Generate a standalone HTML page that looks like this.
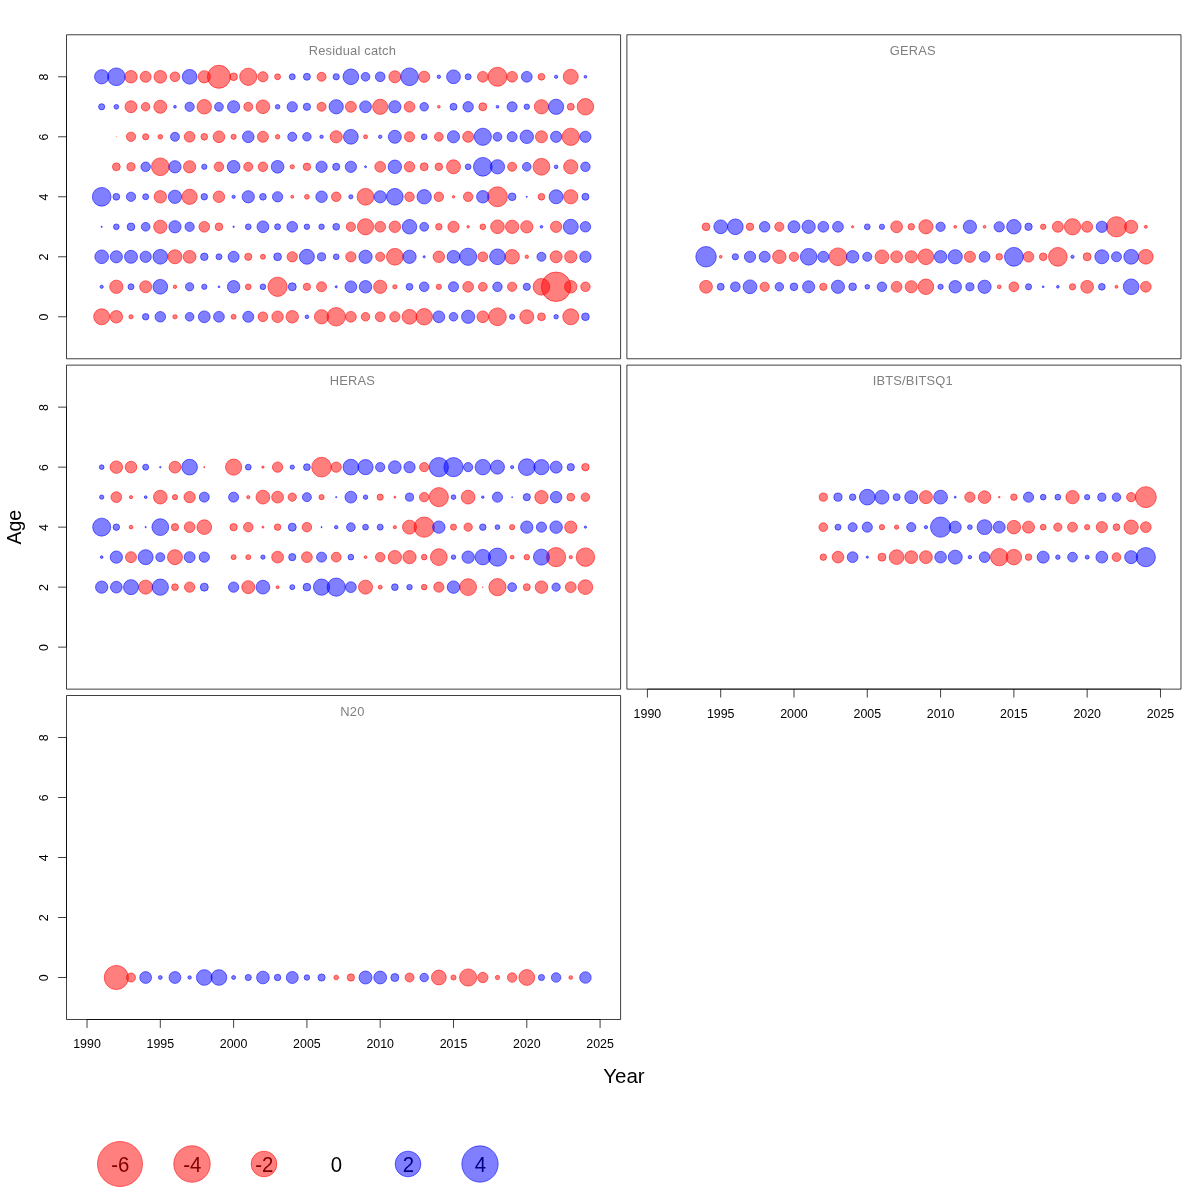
<!DOCTYPE html>
<html><head><meta charset="utf-8"><title>Residual bubbles</title>
<style>html,body{margin:0;padding:0;background:#fff}svg{display:block;will-change:transform}text{font-family:"Liberation Sans",sans-serif}</style></head><body>
<svg width="1200" height="1200" viewBox="0 0 1200 1200">
<rect width="1200" height="1200" fill="#fff"/>
<g>
<circle cx="101.68" cy="316.78" r="8" fill="rgba(255,0,0,0.5)" stroke="rgba(255,0,0,0.55)" stroke-width="1.0"/>
<circle cx="116.34" cy="316.78" r="6.25" fill="rgba(255,0,0,0.5)" stroke="rgba(255,0,0,0.55)" stroke-width="1.0"/>
<circle cx="131" cy="316.78" r="2.15" fill="rgba(255,0,0,0.5)" stroke="rgba(255,0,0,0.55)" stroke-width="1.0"/>
<circle cx="174.97" cy="316.78" r="2.15" fill="rgba(255,0,0,0.5)" stroke="rgba(255,0,0,0.55)" stroke-width="1.0"/>
<circle cx="233.61" cy="316.78" r="2.5" fill="rgba(255,0,0,0.5)" stroke="rgba(255,0,0,0.55)" stroke-width="1.0"/>
<circle cx="262.93" cy="316.78" r="4.85" fill="rgba(255,0,0,0.5)" stroke="rgba(255,0,0,0.55)" stroke-width="1.0"/>
<circle cx="277.59" cy="316.78" r="5.75" fill="rgba(255,0,0,0.5)" stroke="rgba(255,0,0,0.55)" stroke-width="1.0"/>
<circle cx="292.25" cy="316.78" r="6.25" fill="rgba(255,0,0,0.5)" stroke="rgba(255,0,0,0.55)" stroke-width="1.0"/>
<circle cx="321.56" cy="316.78" r="7.15" fill="rgba(255,0,0,0.5)" stroke="rgba(255,0,0,0.55)" stroke-width="1.0"/>
<circle cx="336.22" cy="316.78" r="9.25" fill="rgba(255,0,0,0.5)" stroke="rgba(255,0,0,0.55)" stroke-width="1.0"/>
<circle cx="350.88" cy="316.78" r="5.4" fill="rgba(255,0,0,0.5)" stroke="rgba(255,0,0,0.55)" stroke-width="1.0"/>
<circle cx="365.54" cy="316.78" r="4.25" fill="rgba(255,0,0,0.5)" stroke="rgba(255,0,0,0.55)" stroke-width="1.0"/>
<circle cx="380.2" cy="316.78" r="4.9" fill="rgba(255,0,0,0.5)" stroke="rgba(255,0,0,0.55)" stroke-width="1.0"/>
<circle cx="394.86" cy="316.78" r="5.15" fill="rgba(255,0,0,0.5)" stroke="rgba(255,0,0,0.55)" stroke-width="1.0"/>
<circle cx="409.52" cy="316.78" r="7.4" fill="rgba(255,0,0,0.5)" stroke="rgba(255,0,0,0.55)" stroke-width="1.0"/>
<circle cx="424.18" cy="316.78" r="8.25" fill="rgba(255,0,0,0.5)" stroke="rgba(255,0,0,0.55)" stroke-width="1.0"/>
<circle cx="482.81" cy="316.78" r="5.85" fill="rgba(255,0,0,0.5)" stroke="rgba(255,0,0,0.55)" stroke-width="1.0"/>
<circle cx="497.47" cy="316.78" r="8.85" fill="rgba(255,0,0,0.5)" stroke="rgba(255,0,0,0.55)" stroke-width="1.0"/>
<circle cx="526.79" cy="316.78" r="7" fill="rgba(255,0,0,0.5)" stroke="rgba(255,0,0,0.55)" stroke-width="1.0"/>
<circle cx="541.45" cy="316.78" r="3.9" fill="rgba(255,0,0,0.5)" stroke="rgba(255,0,0,0.55)" stroke-width="1.0"/>
<circle cx="570.77" cy="316.78" r="8" fill="rgba(255,0,0,0.5)" stroke="rgba(255,0,0,0.55)" stroke-width="1.0"/>
<circle cx="116.34" cy="286.78" r="6.65" fill="rgba(255,0,0,0.5)" stroke="rgba(255,0,0,0.55)" stroke-width="1.0"/>
<circle cx="145.66" cy="286.78" r="6" fill="rgba(255,0,0,0.5)" stroke="rgba(255,0,0,0.55)" stroke-width="1.0"/>
<circle cx="174.97" cy="286.78" r="1.75" fill="rgba(255,0,0,0.5)" stroke="rgba(255,0,0,0.55)" stroke-width="1.0"/>
<circle cx="248.27" cy="286.78" r="2.85" fill="rgba(255,0,0,0.5)" stroke="rgba(255,0,0,0.55)" stroke-width="1.0"/>
<circle cx="277.59" cy="286.78" r="9.65" fill="rgba(255,0,0,0.5)" stroke="rgba(255,0,0,0.55)" stroke-width="1.0"/>
<circle cx="306.91" cy="286.78" r="3.65" fill="rgba(255,0,0,0.5)" stroke="rgba(255,0,0,0.55)" stroke-width="1.0"/>
<circle cx="321.56" cy="286.78" r="5" fill="rgba(255,0,0,0.5)" stroke="rgba(255,0,0,0.55)" stroke-width="1.0"/>
<circle cx="380.2" cy="286.78" r="6.6" fill="rgba(255,0,0,0.5)" stroke="rgba(255,0,0,0.55)" stroke-width="1.0"/>
<circle cx="394.86" cy="286.78" r="2.15" fill="rgba(255,0,0,0.5)" stroke="rgba(255,0,0,0.55)" stroke-width="1.0"/>
<circle cx="438.84" cy="286.78" r="2.65" fill="rgba(255,0,0,0.5)" stroke="rgba(255,0,0,0.55)" stroke-width="1.0"/>
<circle cx="468.15" cy="286.78" r="5.35" fill="rgba(255,0,0,0.5)" stroke="rgba(255,0,0,0.55)" stroke-width="1.0"/>
<circle cx="482.81" cy="286.78" r="4.4" fill="rgba(255,0,0,0.5)" stroke="rgba(255,0,0,0.55)" stroke-width="1.0"/>
<circle cx="512.13" cy="286.78" r="4.65" fill="rgba(255,0,0,0.5)" stroke="rgba(255,0,0,0.55)" stroke-width="1.0"/>
<circle cx="541.45" cy="286.78" r="8.35" fill="rgba(255,0,0,0.5)" stroke="rgba(255,0,0,0.55)" stroke-width="1.0"/>
<circle cx="556.11" cy="286.78" r="14.75" fill="rgba(255,0,0,0.5)" stroke="rgba(255,0,0,0.55)" stroke-width="1.0"/>
<circle cx="570.77" cy="286.78" r="6.25" fill="rgba(255,0,0,0.5)" stroke="rgba(255,0,0,0.55)" stroke-width="1.0"/>
<circle cx="585.43" cy="286.78" r="4.75" fill="rgba(255,0,0,0.5)" stroke="rgba(255,0,0,0.55)" stroke-width="1.0"/>
<circle cx="174.97" cy="256.78" r="7" fill="rgba(255,0,0,0.5)" stroke="rgba(255,0,0,0.55)" stroke-width="1.0"/>
<circle cx="189.63" cy="256.78" r="6.4" fill="rgba(255,0,0,0.5)" stroke="rgba(255,0,0,0.55)" stroke-width="1.0"/>
<circle cx="248.27" cy="256.78" r="3.6" fill="rgba(255,0,0,0.5)" stroke="rgba(255,0,0,0.55)" stroke-width="1.0"/>
<circle cx="262.93" cy="256.78" r="2.5" fill="rgba(255,0,0,0.5)" stroke="rgba(255,0,0,0.55)" stroke-width="1.0"/>
<circle cx="292.25" cy="256.78" r="5.15" fill="rgba(255,0,0,0.5)" stroke="rgba(255,0,0,0.55)" stroke-width="1.0"/>
<circle cx="350.88" cy="256.78" r="5.15" fill="rgba(255,0,0,0.5)" stroke="rgba(255,0,0,0.55)" stroke-width="1.0"/>
<circle cx="380.2" cy="256.78" r="4.6" fill="rgba(255,0,0,0.5)" stroke="rgba(255,0,0,0.55)" stroke-width="1.0"/>
<circle cx="394.86" cy="256.78" r="8.4" fill="rgba(255,0,0,0.5)" stroke="rgba(255,0,0,0.55)" stroke-width="1.0"/>
<circle cx="438.84" cy="256.78" r="5.75" fill="rgba(255,0,0,0.5)" stroke="rgba(255,0,0,0.55)" stroke-width="1.0"/>
<circle cx="482.81" cy="256.78" r="4.9" fill="rgba(255,0,0,0.5)" stroke="rgba(255,0,0,0.55)" stroke-width="1.0"/>
<circle cx="512.13" cy="256.78" r="7.25" fill="rgba(255,0,0,0.5)" stroke="rgba(255,0,0,0.55)" stroke-width="1.0"/>
<circle cx="526.79" cy="256.78" r="1.75" fill="rgba(255,0,0,0.5)" stroke="rgba(255,0,0,0.55)" stroke-width="1.0"/>
<circle cx="556.11" cy="256.78" r="6" fill="rgba(255,0,0,0.5)" stroke="rgba(255,0,0,0.55)" stroke-width="1.0"/>
<circle cx="570.77" cy="256.78" r="6.15" fill="rgba(255,0,0,0.5)" stroke="rgba(255,0,0,0.55)" stroke-width="1.0"/>
<circle cx="160.31" cy="226.78" r="6.65" fill="rgba(255,0,0,0.5)" stroke="rgba(255,0,0,0.55)" stroke-width="1.0"/>
<circle cx="204.29" cy="226.78" r="5.35" fill="rgba(255,0,0,0.5)" stroke="rgba(255,0,0,0.55)" stroke-width="1.0"/>
<circle cx="218.95" cy="226.78" r="3.85" fill="rgba(255,0,0,0.5)" stroke="rgba(255,0,0,0.55)" stroke-width="1.0"/>
<circle cx="350.88" cy="226.78" r="4.65" fill="rgba(255,0,0,0.5)" stroke="rgba(255,0,0,0.55)" stroke-width="1.0"/>
<circle cx="365.54" cy="226.78" r="8.1" fill="rgba(255,0,0,0.5)" stroke="rgba(255,0,0,0.55)" stroke-width="1.0"/>
<circle cx="380.2" cy="226.78" r="5.4" fill="rgba(255,0,0,0.5)" stroke="rgba(255,0,0,0.55)" stroke-width="1.0"/>
<circle cx="394.86" cy="226.78" r="5.75" fill="rgba(255,0,0,0.5)" stroke="rgba(255,0,0,0.55)" stroke-width="1.0"/>
<circle cx="438.84" cy="226.78" r="3.25" fill="rgba(255,0,0,0.5)" stroke="rgba(255,0,0,0.55)" stroke-width="1.0"/>
<circle cx="453.5" cy="226.78" r="5.6" fill="rgba(255,0,0,0.5)" stroke="rgba(255,0,0,0.55)" stroke-width="1.0"/>
<circle cx="468.15" cy="226.78" r="1.25" fill="rgba(255,0,0,0.5)" stroke="rgba(255,0,0,0.55)" stroke-width="1.0"/>
<circle cx="482.81" cy="226.78" r="2.85" fill="rgba(255,0,0,0.5)" stroke="rgba(255,0,0,0.55)" stroke-width="1.0"/>
<circle cx="497.47" cy="226.78" r="6.85" fill="rgba(255,0,0,0.5)" stroke="rgba(255,0,0,0.55)" stroke-width="1.0"/>
<circle cx="512.13" cy="226.78" r="6.65" fill="rgba(255,0,0,0.5)" stroke="rgba(255,0,0,0.55)" stroke-width="1.0"/>
<circle cx="526.79" cy="226.78" r="6.15" fill="rgba(255,0,0,0.5)" stroke="rgba(255,0,0,0.55)" stroke-width="1.0"/>
<circle cx="556.11" cy="226.78" r="5.65" fill="rgba(255,0,0,0.5)" stroke="rgba(255,0,0,0.55)" stroke-width="1.0"/>
<circle cx="160.31" cy="196.78" r="6.25" fill="rgba(255,0,0,0.5)" stroke="rgba(255,0,0,0.55)" stroke-width="1.0"/>
<circle cx="189.63" cy="196.78" r="7.6" fill="rgba(255,0,0,0.5)" stroke="rgba(255,0,0,0.55)" stroke-width="1.0"/>
<circle cx="218.95" cy="196.78" r="5.75" fill="rgba(255,0,0,0.5)" stroke="rgba(255,0,0,0.55)" stroke-width="1.0"/>
<circle cx="292.25" cy="196.78" r="1.5" fill="rgba(255,0,0,0.5)" stroke="rgba(255,0,0,0.55)" stroke-width="1.0"/>
<circle cx="306.91" cy="196.78" r="2.4" fill="rgba(255,0,0,0.5)" stroke="rgba(255,0,0,0.55)" stroke-width="1.0"/>
<circle cx="336.22" cy="196.78" r="4.75" fill="rgba(255,0,0,0.5)" stroke="rgba(255,0,0,0.55)" stroke-width="1.0"/>
<circle cx="365.54" cy="196.78" r="8.4" fill="rgba(255,0,0,0.5)" stroke="rgba(255,0,0,0.55)" stroke-width="1.0"/>
<circle cx="409.52" cy="196.78" r="4.75" fill="rgba(255,0,0,0.5)" stroke="rgba(255,0,0,0.55)" stroke-width="1.0"/>
<circle cx="438.84" cy="196.78" r="4.75" fill="rgba(255,0,0,0.5)" stroke="rgba(255,0,0,0.55)" stroke-width="1.0"/>
<circle cx="453.5" cy="196.78" r="1.25" fill="rgba(255,0,0,0.5)" stroke="rgba(255,0,0,0.55)" stroke-width="1.0"/>
<circle cx="468.15" cy="196.78" r="4.75" fill="rgba(255,0,0,0.5)" stroke="rgba(255,0,0,0.55)" stroke-width="1.0"/>
<circle cx="497.47" cy="196.78" r="10" fill="rgba(255,0,0,0.5)" stroke="rgba(255,0,0,0.55)" stroke-width="1.0"/>
<circle cx="541.45" cy="196.78" r="3.35" fill="rgba(255,0,0,0.5)" stroke="rgba(255,0,0,0.55)" stroke-width="1.0"/>
<circle cx="570.77" cy="196.78" r="7.1" fill="rgba(255,0,0,0.5)" stroke="rgba(255,0,0,0.55)" stroke-width="1.0"/>
<circle cx="116.34" cy="166.78" r="3.9" fill="rgba(255,0,0,0.5)" stroke="rgba(255,0,0,0.55)" stroke-width="1.0"/>
<circle cx="131" cy="166.78" r="4.1" fill="rgba(255,0,0,0.5)" stroke="rgba(255,0,0,0.55)" stroke-width="1.0"/>
<circle cx="160.31" cy="166.78" r="8.85" fill="rgba(255,0,0,0.5)" stroke="rgba(255,0,0,0.55)" stroke-width="1.0"/>
<circle cx="189.63" cy="166.78" r="6.15" fill="rgba(255,0,0,0.5)" stroke="rgba(255,0,0,0.55)" stroke-width="1.0"/>
<circle cx="218.95" cy="166.78" r="4.75" fill="rgba(255,0,0,0.5)" stroke="rgba(255,0,0,0.55)" stroke-width="1.0"/>
<circle cx="248.27" cy="166.78" r="4.5" fill="rgba(255,0,0,0.5)" stroke="rgba(255,0,0,0.55)" stroke-width="1.0"/>
<circle cx="262.93" cy="166.78" r="4.75" fill="rgba(255,0,0,0.5)" stroke="rgba(255,0,0,0.55)" stroke-width="1.0"/>
<circle cx="292.25" cy="166.78" r="2.15" fill="rgba(255,0,0,0.5)" stroke="rgba(255,0,0,0.55)" stroke-width="1.0"/>
<circle cx="306.91" cy="166.78" r="3.75" fill="rgba(255,0,0,0.5)" stroke="rgba(255,0,0,0.55)" stroke-width="1.0"/>
<circle cx="380.2" cy="166.78" r="5.4" fill="rgba(255,0,0,0.5)" stroke="rgba(255,0,0,0.55)" stroke-width="1.0"/>
<circle cx="409.52" cy="166.78" r="5.25" fill="rgba(255,0,0,0.5)" stroke="rgba(255,0,0,0.55)" stroke-width="1.0"/>
<circle cx="424.18" cy="166.78" r="4" fill="rgba(255,0,0,0.5)" stroke="rgba(255,0,0,0.55)" stroke-width="1.0"/>
<circle cx="438.84" cy="166.78" r="3.8" fill="rgba(255,0,0,0.5)" stroke="rgba(255,0,0,0.55)" stroke-width="1.0"/>
<circle cx="453.5" cy="166.78" r="7" fill="rgba(255,0,0,0.5)" stroke="rgba(255,0,0,0.55)" stroke-width="1.0"/>
<circle cx="512.13" cy="166.78" r="4.5" fill="rgba(255,0,0,0.5)" stroke="rgba(255,0,0,0.55)" stroke-width="1.0"/>
<circle cx="541.45" cy="166.78" r="8.4" fill="rgba(255,0,0,0.5)" stroke="rgba(255,0,0,0.55)" stroke-width="1.0"/>
<circle cx="570.77" cy="166.78" r="7.15" fill="rgba(255,0,0,0.5)" stroke="rgba(255,0,0,0.55)" stroke-width="1.0"/>
<circle cx="116.34" cy="136.78" r="0.15" fill="rgba(255,0,0,0.5)" stroke="rgba(255,0,0,0.55)" stroke-width="1.0"/>
<circle cx="131" cy="136.78" r="4.65" fill="rgba(255,0,0,0.5)" stroke="rgba(255,0,0,0.55)" stroke-width="1.0"/>
<circle cx="145.66" cy="136.78" r="3.1" fill="rgba(255,0,0,0.5)" stroke="rgba(255,0,0,0.55)" stroke-width="1.0"/>
<circle cx="160.31" cy="136.78" r="2.35" fill="rgba(255,0,0,0.5)" stroke="rgba(255,0,0,0.55)" stroke-width="1.0"/>
<circle cx="189.63" cy="136.78" r="5.35" fill="rgba(255,0,0,0.5)" stroke="rgba(255,0,0,0.55)" stroke-width="1.0"/>
<circle cx="204.29" cy="136.78" r="3.35" fill="rgba(255,0,0,0.5)" stroke="rgba(255,0,0,0.55)" stroke-width="1.0"/>
<circle cx="218.95" cy="136.78" r="5.85" fill="rgba(255,0,0,0.5)" stroke="rgba(255,0,0,0.55)" stroke-width="1.0"/>
<circle cx="233.61" cy="136.78" r="2.6" fill="rgba(255,0,0,0.5)" stroke="rgba(255,0,0,0.55)" stroke-width="1.0"/>
<circle cx="262.93" cy="136.78" r="5.5" fill="rgba(255,0,0,0.5)" stroke="rgba(255,0,0,0.55)" stroke-width="1.0"/>
<circle cx="277.59" cy="136.78" r="2.25" fill="rgba(255,0,0,0.5)" stroke="rgba(255,0,0,0.55)" stroke-width="1.0"/>
<circle cx="336.22" cy="136.78" r="6.1" fill="rgba(255,0,0,0.5)" stroke="rgba(255,0,0,0.55)" stroke-width="1.0"/>
<circle cx="365.54" cy="136.78" r="2" fill="rgba(255,0,0,0.5)" stroke="rgba(255,0,0,0.55)" stroke-width="1.0"/>
<circle cx="409.52" cy="136.78" r="5.1" fill="rgba(255,0,0,0.5)" stroke="rgba(255,0,0,0.55)" stroke-width="1.0"/>
<circle cx="438.84" cy="136.78" r="4.4" fill="rgba(255,0,0,0.5)" stroke="rgba(255,0,0,0.55)" stroke-width="1.0"/>
<circle cx="468.15" cy="136.78" r="5.5" fill="rgba(255,0,0,0.5)" stroke="rgba(255,0,0,0.55)" stroke-width="1.0"/>
<circle cx="541.45" cy="136.78" r="6" fill="rgba(255,0,0,0.5)" stroke="rgba(255,0,0,0.55)" stroke-width="1.0"/>
<circle cx="570.77" cy="136.78" r="8.65" fill="rgba(255,0,0,0.5)" stroke="rgba(255,0,0,0.55)" stroke-width="1.0"/>
<circle cx="131" cy="106.78" r="6" fill="rgba(255,0,0,0.5)" stroke="rgba(255,0,0,0.55)" stroke-width="1.0"/>
<circle cx="145.66" cy="106.78" r="4.25" fill="rgba(255,0,0,0.5)" stroke="rgba(255,0,0,0.55)" stroke-width="1.0"/>
<circle cx="160.31" cy="106.78" r="6.5" fill="rgba(255,0,0,0.5)" stroke="rgba(255,0,0,0.55)" stroke-width="1.0"/>
<circle cx="204.29" cy="106.78" r="7.25" fill="rgba(255,0,0,0.5)" stroke="rgba(255,0,0,0.55)" stroke-width="1.0"/>
<circle cx="248.27" cy="106.78" r="4.5" fill="rgba(255,0,0,0.5)" stroke="rgba(255,0,0,0.55)" stroke-width="1.0"/>
<circle cx="262.93" cy="106.78" r="6.85" fill="rgba(255,0,0,0.5)" stroke="rgba(255,0,0,0.55)" stroke-width="1.0"/>
<circle cx="321.56" cy="106.78" r="4.5" fill="rgba(255,0,0,0.5)" stroke="rgba(255,0,0,0.55)" stroke-width="1.0"/>
<circle cx="350.88" cy="106.78" r="5.5" fill="rgba(255,0,0,0.5)" stroke="rgba(255,0,0,0.55)" stroke-width="1.0"/>
<circle cx="380.2" cy="106.78" r="7.6" fill="rgba(255,0,0,0.5)" stroke="rgba(255,0,0,0.55)" stroke-width="1.0"/>
<circle cx="409.52" cy="106.78" r="5.35" fill="rgba(255,0,0,0.5)" stroke="rgba(255,0,0,0.55)" stroke-width="1.0"/>
<circle cx="438.84" cy="106.78" r="1.35" fill="rgba(255,0,0,0.5)" stroke="rgba(255,0,0,0.55)" stroke-width="1.0"/>
<circle cx="482.81" cy="106.78" r="4" fill="rgba(255,0,0,0.5)" stroke="rgba(255,0,0,0.55)" stroke-width="1.0"/>
<circle cx="541.45" cy="106.78" r="7.15" fill="rgba(255,0,0,0.5)" stroke="rgba(255,0,0,0.55)" stroke-width="1.0"/>
<circle cx="570.77" cy="106.78" r="3.5" fill="rgba(255,0,0,0.5)" stroke="rgba(255,0,0,0.55)" stroke-width="1.0"/>
<circle cx="585.43" cy="106.78" r="8.25" fill="rgba(255,0,0,0.5)" stroke="rgba(255,0,0,0.55)" stroke-width="1.0"/>
<circle cx="131" cy="76.78" r="6.25" fill="rgba(255,0,0,0.5)" stroke="rgba(255,0,0,0.55)" stroke-width="1.0"/>
<circle cx="145.66" cy="76.78" r="5.5" fill="rgba(255,0,0,0.5)" stroke="rgba(255,0,0,0.55)" stroke-width="1.0"/>
<circle cx="160.31" cy="76.78" r="6.35" fill="rgba(255,0,0,0.5)" stroke="rgba(255,0,0,0.55)" stroke-width="1.0"/>
<circle cx="174.97" cy="76.78" r="4.85" fill="rgba(255,0,0,0.5)" stroke="rgba(255,0,0,0.55)" stroke-width="1.0"/>
<circle cx="204.29" cy="76.78" r="6.15" fill="rgba(255,0,0,0.5)" stroke="rgba(255,0,0,0.55)" stroke-width="1.0"/>
<circle cx="218.95" cy="76.78" r="11.5" fill="rgba(255,0,0,0.5)" stroke="rgba(255,0,0,0.55)" stroke-width="1.0"/>
<circle cx="233.61" cy="76.78" r="3.85" fill="rgba(255,0,0,0.5)" stroke="rgba(255,0,0,0.55)" stroke-width="1.0"/>
<circle cx="248.27" cy="76.78" r="8.6" fill="rgba(255,0,0,0.5)" stroke="rgba(255,0,0,0.55)" stroke-width="1.0"/>
<circle cx="262.93" cy="76.78" r="5.1" fill="rgba(255,0,0,0.5)" stroke="rgba(255,0,0,0.55)" stroke-width="1.0"/>
<circle cx="277.59" cy="76.78" r="2.95" fill="rgba(255,0,0,0.5)" stroke="rgba(255,0,0,0.55)" stroke-width="1.0"/>
<circle cx="321.56" cy="76.78" r="4.5" fill="rgba(255,0,0,0.5)" stroke="rgba(255,0,0,0.55)" stroke-width="1.0"/>
<circle cx="394.86" cy="76.78" r="6" fill="rgba(255,0,0,0.5)" stroke="rgba(255,0,0,0.55)" stroke-width="1.0"/>
<circle cx="424.18" cy="76.78" r="5.6" fill="rgba(255,0,0,0.5)" stroke="rgba(255,0,0,0.55)" stroke-width="1.0"/>
<circle cx="482.81" cy="76.78" r="5.35" fill="rgba(255,0,0,0.5)" stroke="rgba(255,0,0,0.55)" stroke-width="1.0"/>
<circle cx="497.47" cy="76.78" r="9.5" fill="rgba(255,0,0,0.5)" stroke="rgba(255,0,0,0.55)" stroke-width="1.0"/>
<circle cx="512.13" cy="76.78" r="5.35" fill="rgba(255,0,0,0.5)" stroke="rgba(255,0,0,0.55)" stroke-width="1.0"/>
<circle cx="541.45" cy="76.78" r="3.4" fill="rgba(255,0,0,0.5)" stroke="rgba(255,0,0,0.55)" stroke-width="1.0"/>
<circle cx="570.77" cy="76.78" r="7.5" fill="rgba(255,0,0,0.5)" stroke="rgba(255,0,0,0.55)" stroke-width="1.0"/>
<circle cx="145.66" cy="316.78" r="3.25" fill="rgba(0,0,255,0.5)" stroke="rgba(0,0,255,0.55)" stroke-width="1.0"/>
<circle cx="160.31" cy="316.78" r="5.25" fill="rgba(0,0,255,0.5)" stroke="rgba(0,0,255,0.55)" stroke-width="1.0"/>
<circle cx="189.63" cy="316.78" r="4.35" fill="rgba(0,0,255,0.5)" stroke="rgba(0,0,255,0.55)" stroke-width="1.0"/>
<circle cx="204.29" cy="316.78" r="5.9" fill="rgba(0,0,255,0.5)" stroke="rgba(0,0,255,0.55)" stroke-width="1.0"/>
<circle cx="218.95" cy="316.78" r="5.4" fill="rgba(0,0,255,0.5)" stroke="rgba(0,0,255,0.55)" stroke-width="1.0"/>
<circle cx="248.27" cy="316.78" r="5.5" fill="rgba(0,0,255,0.5)" stroke="rgba(0,0,255,0.55)" stroke-width="1.0"/>
<circle cx="306.91" cy="316.78" r="1.85" fill="rgba(0,0,255,0.5)" stroke="rgba(0,0,255,0.55)" stroke-width="1.0"/>
<circle cx="438.84" cy="316.78" r="5.9" fill="rgba(0,0,255,0.5)" stroke="rgba(0,0,255,0.55)" stroke-width="1.0"/>
<circle cx="453.5" cy="316.78" r="4.3" fill="rgba(0,0,255,0.5)" stroke="rgba(0,0,255,0.55)" stroke-width="1.0"/>
<circle cx="468.15" cy="316.78" r="6.6" fill="rgba(0,0,255,0.5)" stroke="rgba(0,0,255,0.55)" stroke-width="1.0"/>
<circle cx="512.13" cy="316.78" r="2.6" fill="rgba(0,0,255,0.5)" stroke="rgba(0,0,255,0.55)" stroke-width="1.0"/>
<circle cx="556.11" cy="316.78" r="2.25" fill="rgba(0,0,255,0.5)" stroke="rgba(0,0,255,0.55)" stroke-width="1.0"/>
<circle cx="585.43" cy="316.78" r="3.85" fill="rgba(0,0,255,0.5)" stroke="rgba(0,0,255,0.55)" stroke-width="1.0"/>
<circle cx="101.68" cy="286.78" r="1.65" fill="rgba(0,0,255,0.5)" stroke="rgba(0,0,255,0.55)" stroke-width="1.0"/>
<circle cx="131" cy="286.78" r="3" fill="rgba(0,0,255,0.5)" stroke="rgba(0,0,255,0.55)" stroke-width="1.0"/>
<circle cx="160.31" cy="286.78" r="7.35" fill="rgba(0,0,255,0.5)" stroke="rgba(0,0,255,0.55)" stroke-width="1.0"/>
<circle cx="189.63" cy="286.78" r="4.15" fill="rgba(0,0,255,0.5)" stroke="rgba(0,0,255,0.55)" stroke-width="1.0"/>
<circle cx="204.29" cy="286.78" r="2.65" fill="rgba(0,0,255,0.5)" stroke="rgba(0,0,255,0.55)" stroke-width="1.0"/>
<circle cx="218.95" cy="286.78" r="0.9" fill="rgba(0,0,255,0.5)" stroke="rgba(0,0,255,0.55)" stroke-width="1.0"/>
<circle cx="233.61" cy="286.78" r="6.25" fill="rgba(0,0,255,0.5)" stroke="rgba(0,0,255,0.55)" stroke-width="1.0"/>
<circle cx="262.93" cy="286.78" r="2.85" fill="rgba(0,0,255,0.5)" stroke="rgba(0,0,255,0.55)" stroke-width="1.0"/>
<circle cx="292.25" cy="286.78" r="4" fill="rgba(0,0,255,0.5)" stroke="rgba(0,0,255,0.55)" stroke-width="1.0"/>
<circle cx="336.22" cy="286.78" r="1.1" fill="rgba(0,0,255,0.5)" stroke="rgba(0,0,255,0.55)" stroke-width="1.0"/>
<circle cx="350.88" cy="286.78" r="5.9" fill="rgba(0,0,255,0.5)" stroke="rgba(0,0,255,0.55)" stroke-width="1.0"/>
<circle cx="365.54" cy="286.78" r="6.25" fill="rgba(0,0,255,0.5)" stroke="rgba(0,0,255,0.55)" stroke-width="1.0"/>
<circle cx="409.52" cy="286.78" r="3.4" fill="rgba(0,0,255,0.5)" stroke="rgba(0,0,255,0.55)" stroke-width="1.0"/>
<circle cx="424.18" cy="286.78" r="4.8" fill="rgba(0,0,255,0.5)" stroke="rgba(0,0,255,0.55)" stroke-width="1.0"/>
<circle cx="453.5" cy="286.78" r="5" fill="rgba(0,0,255,0.5)" stroke="rgba(0,0,255,0.55)" stroke-width="1.0"/>
<circle cx="497.47" cy="286.78" r="4.75" fill="rgba(0,0,255,0.5)" stroke="rgba(0,0,255,0.55)" stroke-width="1.0"/>
<circle cx="526.79" cy="286.78" r="3.6" fill="rgba(0,0,255,0.5)" stroke="rgba(0,0,255,0.55)" stroke-width="1.0"/>
<circle cx="101.68" cy="256.78" r="6.85" fill="rgba(0,0,255,0.5)" stroke="rgba(0,0,255,0.55)" stroke-width="1.0"/>
<circle cx="116.34" cy="256.78" r="6.1" fill="rgba(0,0,255,0.5)" stroke="rgba(0,0,255,0.55)" stroke-width="1.0"/>
<circle cx="131" cy="256.78" r="6.5" fill="rgba(0,0,255,0.5)" stroke="rgba(0,0,255,0.55)" stroke-width="1.0"/>
<circle cx="145.66" cy="256.78" r="5.65" fill="rgba(0,0,255,0.5)" stroke="rgba(0,0,255,0.55)" stroke-width="1.0"/>
<circle cx="160.31" cy="256.78" r="7.35" fill="rgba(0,0,255,0.5)" stroke="rgba(0,0,255,0.55)" stroke-width="1.0"/>
<circle cx="204.29" cy="256.78" r="3.75" fill="rgba(0,0,255,0.5)" stroke="rgba(0,0,255,0.55)" stroke-width="1.0"/>
<circle cx="218.95" cy="256.78" r="3" fill="rgba(0,0,255,0.5)" stroke="rgba(0,0,255,0.55)" stroke-width="1.0"/>
<circle cx="233.61" cy="256.78" r="5.5" fill="rgba(0,0,255,0.5)" stroke="rgba(0,0,255,0.55)" stroke-width="1.0"/>
<circle cx="277.59" cy="256.78" r="3.9" fill="rgba(0,0,255,0.5)" stroke="rgba(0,0,255,0.55)" stroke-width="1.0"/>
<circle cx="306.91" cy="256.78" r="7.5" fill="rgba(0,0,255,0.5)" stroke="rgba(0,0,255,0.55)" stroke-width="1.0"/>
<circle cx="321.56" cy="256.78" r="4.1" fill="rgba(0,0,255,0.5)" stroke="rgba(0,0,255,0.55)" stroke-width="1.0"/>
<circle cx="336.22" cy="256.78" r="2.9" fill="rgba(0,0,255,0.5)" stroke="rgba(0,0,255,0.55)" stroke-width="1.0"/>
<circle cx="365.54" cy="256.78" r="6.65" fill="rgba(0,0,255,0.5)" stroke="rgba(0,0,255,0.55)" stroke-width="1.0"/>
<circle cx="409.52" cy="256.78" r="6.65" fill="rgba(0,0,255,0.5)" stroke="rgba(0,0,255,0.55)" stroke-width="1.0"/>
<circle cx="424.18" cy="256.78" r="1.1" fill="rgba(0,0,255,0.5)" stroke="rgba(0,0,255,0.55)" stroke-width="1.0"/>
<circle cx="453.5" cy="256.78" r="6.4" fill="rgba(0,0,255,0.5)" stroke="rgba(0,0,255,0.55)" stroke-width="1.0"/>
<circle cx="468.15" cy="256.78" r="8.6" fill="rgba(0,0,255,0.5)" stroke="rgba(0,0,255,0.55)" stroke-width="1.0"/>
<circle cx="497.47" cy="256.78" r="7.85" fill="rgba(0,0,255,0.5)" stroke="rgba(0,0,255,0.55)" stroke-width="1.0"/>
<circle cx="541.45" cy="256.78" r="4.5" fill="rgba(0,0,255,0.5)" stroke="rgba(0,0,255,0.55)" stroke-width="1.0"/>
<circle cx="585.43" cy="256.78" r="5.65" fill="rgba(0,0,255,0.5)" stroke="rgba(0,0,255,0.55)" stroke-width="1.0"/>
<circle cx="101.68" cy="226.78" r="0.65" fill="rgba(0,0,255,0.5)" stroke="rgba(0,0,255,0.55)" stroke-width="1.0"/>
<circle cx="116.34" cy="226.78" r="2.85" fill="rgba(0,0,255,0.5)" stroke="rgba(0,0,255,0.55)" stroke-width="1.0"/>
<circle cx="131" cy="226.78" r="3.85" fill="rgba(0,0,255,0.5)" stroke="rgba(0,0,255,0.55)" stroke-width="1.0"/>
<circle cx="145.66" cy="226.78" r="4.35" fill="rgba(0,0,255,0.5)" stroke="rgba(0,0,255,0.55)" stroke-width="1.0"/>
<circle cx="174.97" cy="226.78" r="6.15" fill="rgba(0,0,255,0.5)" stroke="rgba(0,0,255,0.55)" stroke-width="1.0"/>
<circle cx="189.63" cy="226.78" r="4.65" fill="rgba(0,0,255,0.5)" stroke="rgba(0,0,255,0.55)" stroke-width="1.0"/>
<circle cx="233.61" cy="226.78" r="0.75" fill="rgba(0,0,255,0.5)" stroke="rgba(0,0,255,0.55)" stroke-width="1.0"/>
<circle cx="248.27" cy="226.78" r="2.9" fill="rgba(0,0,255,0.5)" stroke="rgba(0,0,255,0.55)" stroke-width="1.0"/>
<circle cx="262.93" cy="226.78" r="5.9" fill="rgba(0,0,255,0.5)" stroke="rgba(0,0,255,0.55)" stroke-width="1.0"/>
<circle cx="277.59" cy="226.78" r="3" fill="rgba(0,0,255,0.5)" stroke="rgba(0,0,255,0.55)" stroke-width="1.0"/>
<circle cx="292.25" cy="226.78" r="5.35" fill="rgba(0,0,255,0.5)" stroke="rgba(0,0,255,0.55)" stroke-width="1.0"/>
<circle cx="306.91" cy="226.78" r="2.75" fill="rgba(0,0,255,0.5)" stroke="rgba(0,0,255,0.55)" stroke-width="1.0"/>
<circle cx="321.56" cy="226.78" r="2.75" fill="rgba(0,0,255,0.5)" stroke="rgba(0,0,255,0.55)" stroke-width="1.0"/>
<circle cx="336.22" cy="226.78" r="3.4" fill="rgba(0,0,255,0.5)" stroke="rgba(0,0,255,0.55)" stroke-width="1.0"/>
<circle cx="409.52" cy="226.78" r="7.25" fill="rgba(0,0,255,0.5)" stroke="rgba(0,0,255,0.55)" stroke-width="1.0"/>
<circle cx="424.18" cy="226.78" r="4.4" fill="rgba(0,0,255,0.5)" stroke="rgba(0,0,255,0.55)" stroke-width="1.0"/>
<circle cx="541.45" cy="226.78" r="1.35" fill="rgba(0,0,255,0.5)" stroke="rgba(0,0,255,0.55)" stroke-width="1.0"/>
<circle cx="570.77" cy="226.78" r="7.5" fill="rgba(0,0,255,0.5)" stroke="rgba(0,0,255,0.55)" stroke-width="1.0"/>
<circle cx="585.43" cy="226.78" r="5.25" fill="rgba(0,0,255,0.5)" stroke="rgba(0,0,255,0.55)" stroke-width="1.0"/>
<circle cx="101.68" cy="196.78" r="9.35" fill="rgba(0,0,255,0.5)" stroke="rgba(0,0,255,0.55)" stroke-width="1.0"/>
<circle cx="116.34" cy="196.78" r="3.4" fill="rgba(0,0,255,0.5)" stroke="rgba(0,0,255,0.55)" stroke-width="1.0"/>
<circle cx="131" cy="196.78" r="4.65" fill="rgba(0,0,255,0.5)" stroke="rgba(0,0,255,0.55)" stroke-width="1.0"/>
<circle cx="145.66" cy="196.78" r="3" fill="rgba(0,0,255,0.5)" stroke="rgba(0,0,255,0.55)" stroke-width="1.0"/>
<circle cx="174.97" cy="196.78" r="6.65" fill="rgba(0,0,255,0.5)" stroke="rgba(0,0,255,0.55)" stroke-width="1.0"/>
<circle cx="204.29" cy="196.78" r="3.25" fill="rgba(0,0,255,0.5)" stroke="rgba(0,0,255,0.55)" stroke-width="1.0"/>
<circle cx="233.61" cy="196.78" r="1.65" fill="rgba(0,0,255,0.5)" stroke="rgba(0,0,255,0.55)" stroke-width="1.0"/>
<circle cx="248.27" cy="196.78" r="6.15" fill="rgba(0,0,255,0.5)" stroke="rgba(0,0,255,0.55)" stroke-width="1.0"/>
<circle cx="262.93" cy="196.78" r="3.35" fill="rgba(0,0,255,0.5)" stroke="rgba(0,0,255,0.55)" stroke-width="1.0"/>
<circle cx="277.59" cy="196.78" r="5.15" fill="rgba(0,0,255,0.5)" stroke="rgba(0,0,255,0.55)" stroke-width="1.0"/>
<circle cx="321.56" cy="196.78" r="5.75" fill="rgba(0,0,255,0.5)" stroke="rgba(0,0,255,0.55)" stroke-width="1.0"/>
<circle cx="350.88" cy="196.78" r="2.1" fill="rgba(0,0,255,0.5)" stroke="rgba(0,0,255,0.55)" stroke-width="1.0"/>
<circle cx="380.2" cy="196.78" r="6.1" fill="rgba(0,0,255,0.5)" stroke="rgba(0,0,255,0.55)" stroke-width="1.0"/>
<circle cx="394.86" cy="196.78" r="8.35" fill="rgba(0,0,255,0.5)" stroke="rgba(0,0,255,0.55)" stroke-width="1.0"/>
<circle cx="424.18" cy="196.78" r="7.2" fill="rgba(0,0,255,0.5)" stroke="rgba(0,0,255,0.55)" stroke-width="1.0"/>
<circle cx="482.81" cy="196.78" r="6.25" fill="rgba(0,0,255,0.5)" stroke="rgba(0,0,255,0.55)" stroke-width="1.0"/>
<circle cx="512.13" cy="196.78" r="3.85" fill="rgba(0,0,255,0.5)" stroke="rgba(0,0,255,0.55)" stroke-width="1.0"/>
<circle cx="526.79" cy="196.78" r="0.6" fill="rgba(0,0,255,0.5)" stroke="rgba(0,0,255,0.55)" stroke-width="1.0"/>
<circle cx="556.11" cy="196.78" r="7" fill="rgba(0,0,255,0.5)" stroke="rgba(0,0,255,0.55)" stroke-width="1.0"/>
<circle cx="585.43" cy="196.78" r="3.5" fill="rgba(0,0,255,0.5)" stroke="rgba(0,0,255,0.55)" stroke-width="1.0"/>
<circle cx="145.66" cy="166.78" r="4.75" fill="rgba(0,0,255,0.5)" stroke="rgba(0,0,255,0.55)" stroke-width="1.0"/>
<circle cx="174.97" cy="166.78" r="6.15" fill="rgba(0,0,255,0.5)" stroke="rgba(0,0,255,0.55)" stroke-width="1.0"/>
<circle cx="204.29" cy="166.78" r="2.65" fill="rgba(0,0,255,0.5)" stroke="rgba(0,0,255,0.55)" stroke-width="1.0"/>
<circle cx="233.61" cy="166.78" r="6.35" fill="rgba(0,0,255,0.5)" stroke="rgba(0,0,255,0.55)" stroke-width="1.0"/>
<circle cx="277.59" cy="166.78" r="6.35" fill="rgba(0,0,255,0.5)" stroke="rgba(0,0,255,0.55)" stroke-width="1.0"/>
<circle cx="321.56" cy="166.78" r="5.65" fill="rgba(0,0,255,0.5)" stroke="rgba(0,0,255,0.55)" stroke-width="1.0"/>
<circle cx="336.22" cy="166.78" r="3.6" fill="rgba(0,0,255,0.5)" stroke="rgba(0,0,255,0.55)" stroke-width="1.0"/>
<circle cx="350.88" cy="166.78" r="5.65" fill="rgba(0,0,255,0.5)" stroke="rgba(0,0,255,0.55)" stroke-width="1.0"/>
<circle cx="365.54" cy="166.78" r="1" fill="rgba(0,0,255,0.5)" stroke="rgba(0,0,255,0.55)" stroke-width="1.0"/>
<circle cx="394.86" cy="166.78" r="6.75" fill="rgba(0,0,255,0.5)" stroke="rgba(0,0,255,0.55)" stroke-width="1.0"/>
<circle cx="468.15" cy="166.78" r="2.9" fill="rgba(0,0,255,0.5)" stroke="rgba(0,0,255,0.55)" stroke-width="1.0"/>
<circle cx="482.81" cy="166.78" r="9.35" fill="rgba(0,0,255,0.5)" stroke="rgba(0,0,255,0.55)" stroke-width="1.0"/>
<circle cx="497.47" cy="166.78" r="7.15" fill="rgba(0,0,255,0.5)" stroke="rgba(0,0,255,0.55)" stroke-width="1.0"/>
<circle cx="526.79" cy="166.78" r="4.35" fill="rgba(0,0,255,0.5)" stroke="rgba(0,0,255,0.55)" stroke-width="1.0"/>
<circle cx="556.11" cy="166.78" r="1.85" fill="rgba(0,0,255,0.5)" stroke="rgba(0,0,255,0.55)" stroke-width="1.0"/>
<circle cx="585.43" cy="166.78" r="4.75" fill="rgba(0,0,255,0.5)" stroke="rgba(0,0,255,0.55)" stroke-width="1.0"/>
<circle cx="174.97" cy="136.78" r="4.5" fill="rgba(0,0,255,0.5)" stroke="rgba(0,0,255,0.55)" stroke-width="1.0"/>
<circle cx="248.27" cy="136.78" r="5.85" fill="rgba(0,0,255,0.5)" stroke="rgba(0,0,255,0.55)" stroke-width="1.0"/>
<circle cx="292.25" cy="136.78" r="4.5" fill="rgba(0,0,255,0.5)" stroke="rgba(0,0,255,0.55)" stroke-width="1.0"/>
<circle cx="306.91" cy="136.78" r="4.25" fill="rgba(0,0,255,0.5)" stroke="rgba(0,0,255,0.55)" stroke-width="1.0"/>
<circle cx="321.56" cy="136.78" r="1.75" fill="rgba(0,0,255,0.5)" stroke="rgba(0,0,255,0.55)" stroke-width="1.0"/>
<circle cx="350.88" cy="136.78" r="7.4" fill="rgba(0,0,255,0.5)" stroke="rgba(0,0,255,0.55)" stroke-width="1.0"/>
<circle cx="380.2" cy="136.78" r="1.75" fill="rgba(0,0,255,0.5)" stroke="rgba(0,0,255,0.55)" stroke-width="1.0"/>
<circle cx="394.86" cy="136.78" r="6.5" fill="rgba(0,0,255,0.5)" stroke="rgba(0,0,255,0.55)" stroke-width="1.0"/>
<circle cx="424.18" cy="136.78" r="2.9" fill="rgba(0,0,255,0.5)" stroke="rgba(0,0,255,0.55)" stroke-width="1.0"/>
<circle cx="453.5" cy="136.78" r="6.1" fill="rgba(0,0,255,0.5)" stroke="rgba(0,0,255,0.55)" stroke-width="1.0"/>
<circle cx="482.81" cy="136.78" r="8.6" fill="rgba(0,0,255,0.5)" stroke="rgba(0,0,255,0.55)" stroke-width="1.0"/>
<circle cx="497.47" cy="136.78" r="4.4" fill="rgba(0,0,255,0.5)" stroke="rgba(0,0,255,0.55)" stroke-width="1.0"/>
<circle cx="512.13" cy="136.78" r="5" fill="rgba(0,0,255,0.5)" stroke="rgba(0,0,255,0.55)" stroke-width="1.0"/>
<circle cx="526.79" cy="136.78" r="6.75" fill="rgba(0,0,255,0.5)" stroke="rgba(0,0,255,0.55)" stroke-width="1.0"/>
<circle cx="556.11" cy="136.78" r="5.6" fill="rgba(0,0,255,0.5)" stroke="rgba(0,0,255,0.55)" stroke-width="1.0"/>
<circle cx="585.43" cy="136.78" r="5.6" fill="rgba(0,0,255,0.5)" stroke="rgba(0,0,255,0.55)" stroke-width="1.0"/>
<circle cx="101.68" cy="106.78" r="3.1" fill="rgba(0,0,255,0.5)" stroke="rgba(0,0,255,0.55)" stroke-width="1.0"/>
<circle cx="116.34" cy="106.78" r="2.35" fill="rgba(0,0,255,0.5)" stroke="rgba(0,0,255,0.55)" stroke-width="1.0"/>
<circle cx="174.97" cy="106.78" r="1.4" fill="rgba(0,0,255,0.5)" stroke="rgba(0,0,255,0.55)" stroke-width="1.0"/>
<circle cx="189.63" cy="106.78" r="4.65" fill="rgba(0,0,255,0.5)" stroke="rgba(0,0,255,0.55)" stroke-width="1.0"/>
<circle cx="218.95" cy="106.78" r="4.4" fill="rgba(0,0,255,0.5)" stroke="rgba(0,0,255,0.55)" stroke-width="1.0"/>
<circle cx="233.61" cy="106.78" r="6.1" fill="rgba(0,0,255,0.5)" stroke="rgba(0,0,255,0.55)" stroke-width="1.0"/>
<circle cx="277.59" cy="106.78" r="2.3" fill="rgba(0,0,255,0.5)" stroke="rgba(0,0,255,0.55)" stroke-width="1.0"/>
<circle cx="292.25" cy="106.78" r="5.15" fill="rgba(0,0,255,0.5)" stroke="rgba(0,0,255,0.55)" stroke-width="1.0"/>
<circle cx="306.91" cy="106.78" r="3.65" fill="rgba(0,0,255,0.5)" stroke="rgba(0,0,255,0.55)" stroke-width="1.0"/>
<circle cx="336.22" cy="106.78" r="7.15" fill="rgba(0,0,255,0.5)" stroke="rgba(0,0,255,0.55)" stroke-width="1.0"/>
<circle cx="365.54" cy="106.78" r="5.9" fill="rgba(0,0,255,0.5)" stroke="rgba(0,0,255,0.55)" stroke-width="1.0"/>
<circle cx="394.86" cy="106.78" r="6.15" fill="rgba(0,0,255,0.5)" stroke="rgba(0,0,255,0.55)" stroke-width="1.0"/>
<circle cx="424.18" cy="106.78" r="4.25" fill="rgba(0,0,255,0.5)" stroke="rgba(0,0,255,0.55)" stroke-width="1.0"/>
<circle cx="453.5" cy="106.78" r="3.5" fill="rgba(0,0,255,0.5)" stroke="rgba(0,0,255,0.55)" stroke-width="1.0"/>
<circle cx="468.15" cy="106.78" r="5.2" fill="rgba(0,0,255,0.5)" stroke="rgba(0,0,255,0.55)" stroke-width="1.0"/>
<circle cx="497.47" cy="106.78" r="1.4" fill="rgba(0,0,255,0.5)" stroke="rgba(0,0,255,0.55)" stroke-width="1.0"/>
<circle cx="512.13" cy="106.78" r="5" fill="rgba(0,0,255,0.5)" stroke="rgba(0,0,255,0.55)" stroke-width="1.0"/>
<circle cx="526.79" cy="106.78" r="2.75" fill="rgba(0,0,255,0.5)" stroke="rgba(0,0,255,0.55)" stroke-width="1.0"/>
<circle cx="556.11" cy="106.78" r="7.6" fill="rgba(0,0,255,0.5)" stroke="rgba(0,0,255,0.55)" stroke-width="1.0"/>
<circle cx="101.68" cy="76.78" r="7.15" fill="rgba(0,0,255,0.5)" stroke="rgba(0,0,255,0.55)" stroke-width="1.0"/>
<circle cx="116.34" cy="76.78" r="8.85" fill="rgba(0,0,255,0.5)" stroke="rgba(0,0,255,0.55)" stroke-width="1.0"/>
<circle cx="189.63" cy="76.78" r="7.35" fill="rgba(0,0,255,0.5)" stroke="rgba(0,0,255,0.55)" stroke-width="1.0"/>
<circle cx="292.25" cy="76.78" r="3" fill="rgba(0,0,255,0.5)" stroke="rgba(0,0,255,0.55)" stroke-width="1.0"/>
<circle cx="306.91" cy="76.78" r="3.5" fill="rgba(0,0,255,0.5)" stroke="rgba(0,0,255,0.55)" stroke-width="1.0"/>
<circle cx="336.22" cy="76.78" r="3.15" fill="rgba(0,0,255,0.5)" stroke="rgba(0,0,255,0.55)" stroke-width="1.0"/>
<circle cx="350.88" cy="76.78" r="7.85" fill="rgba(0,0,255,0.5)" stroke="rgba(0,0,255,0.55)" stroke-width="1.0"/>
<circle cx="365.54" cy="76.78" r="4.35" fill="rgba(0,0,255,0.5)" stroke="rgba(0,0,255,0.55)" stroke-width="1.0"/>
<circle cx="380.2" cy="76.78" r="4.85" fill="rgba(0,0,255,0.5)" stroke="rgba(0,0,255,0.55)" stroke-width="1.0"/>
<circle cx="409.52" cy="76.78" r="8.85" fill="rgba(0,0,255,0.5)" stroke="rgba(0,0,255,0.55)" stroke-width="1.0"/>
<circle cx="438.84" cy="76.78" r="1.75" fill="rgba(0,0,255,0.5)" stroke="rgba(0,0,255,0.55)" stroke-width="1.0"/>
<circle cx="453.5" cy="76.78" r="6.9" fill="rgba(0,0,255,0.5)" stroke="rgba(0,0,255,0.55)" stroke-width="1.0"/>
<circle cx="468.15" cy="76.78" r="3" fill="rgba(0,0,255,0.5)" stroke="rgba(0,0,255,0.55)" stroke-width="1.0"/>
<circle cx="526.79" cy="76.78" r="5.4" fill="rgba(0,0,255,0.5)" stroke="rgba(0,0,255,0.55)" stroke-width="1.0"/>
<circle cx="556.11" cy="76.78" r="1.65" fill="rgba(0,0,255,0.5)" stroke="rgba(0,0,255,0.55)" stroke-width="1.0"/>
<circle cx="585.43" cy="76.78" r="1.4" fill="rgba(0,0,255,0.5)" stroke="rgba(0,0,255,0.55)" stroke-width="1.0"/>
<rect x="66.5" y="34.78" width="554.1" height="324" fill="none" stroke="#000" stroke-linejoin="round" stroke-width="0.75"/>
<text x="352.4" y="54.68" font-size="12.9" letter-spacing="0.2" fill="#808080" text-anchor="middle">Residual catch</text>
<line x1="66.5" y1="316.78" x2="66.5" y2="76.78" stroke="#000" stroke-width="0.75"/>
<line x1="58.1" y1="316.78" x2="66.5" y2="316.78" stroke="#000" stroke-width="0.75"/>
<text transform="translate(47.9 317.08) rotate(-90)" font-size="12.4" text-anchor="middle" fill="#000">0</text>
<line x1="58.1" y1="256.78" x2="66.5" y2="256.78" stroke="#000" stroke-width="0.75"/>
<text transform="translate(47.9 257.08) rotate(-90)" font-size="12.4" text-anchor="middle" fill="#000">2</text>
<line x1="58.1" y1="196.78" x2="66.5" y2="196.78" stroke="#000" stroke-width="0.75"/>
<text transform="translate(47.9 197.08) rotate(-90)" font-size="12.4" text-anchor="middle" fill="#000">4</text>
<line x1="58.1" y1="136.78" x2="66.5" y2="136.78" stroke="#000" stroke-width="0.75"/>
<text transform="translate(47.9 137.08) rotate(-90)" font-size="12.4" text-anchor="middle" fill="#000">6</text>
<line x1="58.1" y1="76.78" x2="66.5" y2="76.78" stroke="#000" stroke-width="0.75"/>
<text transform="translate(47.9 77.08) rotate(-90)" font-size="12.4" text-anchor="middle" fill="#000">8</text>
</g>
<g>
<circle cx="706.04" cy="286.78" r="6.4" fill="rgba(255,0,0,0.5)" stroke="rgba(255,0,0,0.55)" stroke-width="1.0"/>
<circle cx="764.67" cy="286.78" r="4.65" fill="rgba(255,0,0,0.5)" stroke="rgba(255,0,0,0.55)" stroke-width="1.0"/>
<circle cx="823.31" cy="286.78" r="3.65" fill="rgba(255,0,0,0.5)" stroke="rgba(255,0,0,0.55)" stroke-width="1.0"/>
<circle cx="896.6" cy="286.78" r="5.4" fill="rgba(255,0,0,0.5)" stroke="rgba(255,0,0,0.55)" stroke-width="1.0"/>
<circle cx="911.26" cy="286.78" r="6.1" fill="rgba(255,0,0,0.5)" stroke="rgba(255,0,0,0.55)" stroke-width="1.0"/>
<circle cx="925.92" cy="286.78" r="7.75" fill="rgba(255,0,0,0.5)" stroke="rgba(255,0,0,0.55)" stroke-width="1.0"/>
<circle cx="999.22" cy="286.78" r="1.9" fill="rgba(255,0,0,0.5)" stroke="rgba(255,0,0,0.55)" stroke-width="1.0"/>
<circle cx="1013.88" cy="286.78" r="4.9" fill="rgba(255,0,0,0.5)" stroke="rgba(255,0,0,0.55)" stroke-width="1.0"/>
<circle cx="1072.51" cy="286.78" r="3.15" fill="rgba(255,0,0,0.5)" stroke="rgba(255,0,0,0.55)" stroke-width="1.0"/>
<circle cx="1087.17" cy="286.78" r="6.4" fill="rgba(255,0,0,0.5)" stroke="rgba(255,0,0,0.55)" stroke-width="1.0"/>
<circle cx="1116.49" cy="286.78" r="1.5" fill="rgba(255,0,0,0.5)" stroke="rgba(255,0,0,0.55)" stroke-width="1.0"/>
<circle cx="1145.81" cy="286.78" r="5.35" fill="rgba(255,0,0,0.5)" stroke="rgba(255,0,0,0.55)" stroke-width="1.0"/>
<circle cx="720.69" cy="256.78" r="1.4" fill="rgba(255,0,0,0.5)" stroke="rgba(255,0,0,0.55)" stroke-width="1.0"/>
<circle cx="779.33" cy="256.78" r="6.75" fill="rgba(255,0,0,0.5)" stroke="rgba(255,0,0,0.55)" stroke-width="1.0"/>
<circle cx="793.99" cy="256.78" r="4.65" fill="rgba(255,0,0,0.5)" stroke="rgba(255,0,0,0.55)" stroke-width="1.0"/>
<circle cx="837.97" cy="256.78" r="8.9" fill="rgba(255,0,0,0.5)" stroke="rgba(255,0,0,0.55)" stroke-width="1.0"/>
<circle cx="881.94" cy="256.78" r="6.9" fill="rgba(255,0,0,0.5)" stroke="rgba(255,0,0,0.55)" stroke-width="1.0"/>
<circle cx="896.6" cy="256.78" r="5.9" fill="rgba(255,0,0,0.5)" stroke="rgba(255,0,0,0.55)" stroke-width="1.0"/>
<circle cx="911.26" cy="256.78" r="6.1" fill="rgba(255,0,0,0.5)" stroke="rgba(255,0,0,0.55)" stroke-width="1.0"/>
<circle cx="925.92" cy="256.78" r="7.85" fill="rgba(255,0,0,0.5)" stroke="rgba(255,0,0,0.55)" stroke-width="1.0"/>
<circle cx="969.9" cy="256.78" r="5.6" fill="rgba(255,0,0,0.5)" stroke="rgba(255,0,0,0.55)" stroke-width="1.0"/>
<circle cx="999.22" cy="256.78" r="3.3" fill="rgba(255,0,0,0.5)" stroke="rgba(255,0,0,0.55)" stroke-width="1.0"/>
<circle cx="1028.53" cy="256.78" r="5.3" fill="rgba(255,0,0,0.5)" stroke="rgba(255,0,0,0.55)" stroke-width="1.0"/>
<circle cx="1043.19" cy="256.78" r="3.85" fill="rgba(255,0,0,0.5)" stroke="rgba(255,0,0,0.55)" stroke-width="1.0"/>
<circle cx="1057.85" cy="256.78" r="9.35" fill="rgba(255,0,0,0.5)" stroke="rgba(255,0,0,0.55)" stroke-width="1.0"/>
<circle cx="1087.17" cy="256.78" r="4" fill="rgba(255,0,0,0.5)" stroke="rgba(255,0,0,0.55)" stroke-width="1.0"/>
<circle cx="1145.81" cy="256.78" r="7.35" fill="rgba(255,0,0,0.5)" stroke="rgba(255,0,0,0.55)" stroke-width="1.0"/>
<circle cx="706.04" cy="226.78" r="3.9" fill="rgba(255,0,0,0.5)" stroke="rgba(255,0,0,0.55)" stroke-width="1.0"/>
<circle cx="750.01" cy="226.78" r="3.75" fill="rgba(255,0,0,0.5)" stroke="rgba(255,0,0,0.55)" stroke-width="1.0"/>
<circle cx="779.33" cy="226.78" r="4.6" fill="rgba(255,0,0,0.5)" stroke="rgba(255,0,0,0.55)" stroke-width="1.0"/>
<circle cx="852.63" cy="226.78" r="1.15" fill="rgba(255,0,0,0.5)" stroke="rgba(255,0,0,0.55)" stroke-width="1.0"/>
<circle cx="896.6" cy="226.78" r="5.9" fill="rgba(255,0,0,0.5)" stroke="rgba(255,0,0,0.55)" stroke-width="1.0"/>
<circle cx="911.26" cy="226.78" r="3.25" fill="rgba(255,0,0,0.5)" stroke="rgba(255,0,0,0.55)" stroke-width="1.0"/>
<circle cx="925.92" cy="226.78" r="7.1" fill="rgba(255,0,0,0.5)" stroke="rgba(255,0,0,0.55)" stroke-width="1.0"/>
<circle cx="955.24" cy="226.78" r="1.4" fill="rgba(255,0,0,0.5)" stroke="rgba(255,0,0,0.55)" stroke-width="1.0"/>
<circle cx="984.56" cy="226.78" r="1.4" fill="rgba(255,0,0,0.5)" stroke="rgba(255,0,0,0.55)" stroke-width="1.0"/>
<circle cx="1043.19" cy="226.78" r="2.7" fill="rgba(255,0,0,0.5)" stroke="rgba(255,0,0,0.55)" stroke-width="1.0"/>
<circle cx="1057.85" cy="226.78" r="5.5" fill="rgba(255,0,0,0.5)" stroke="rgba(255,0,0,0.55)" stroke-width="1.0"/>
<circle cx="1072.51" cy="226.78" r="8.15" fill="rgba(255,0,0,0.5)" stroke="rgba(255,0,0,0.55)" stroke-width="1.0"/>
<circle cx="1087.17" cy="226.78" r="5.5" fill="rgba(255,0,0,0.5)" stroke="rgba(255,0,0,0.55)" stroke-width="1.0"/>
<circle cx="1116.49" cy="226.78" r="10.1" fill="rgba(255,0,0,0.5)" stroke="rgba(255,0,0,0.55)" stroke-width="1.0"/>
<circle cx="1131.15" cy="226.78" r="6.6" fill="rgba(255,0,0,0.5)" stroke="rgba(255,0,0,0.55)" stroke-width="1.0"/>
<circle cx="1145.81" cy="226.78" r="1.5" fill="rgba(255,0,0,0.5)" stroke="rgba(255,0,0,0.55)" stroke-width="1.0"/>
<circle cx="720.69" cy="286.78" r="3.5" fill="rgba(0,0,255,0.5)" stroke="rgba(0,0,255,0.55)" stroke-width="1.0"/>
<circle cx="735.35" cy="286.78" r="4.85" fill="rgba(0,0,255,0.5)" stroke="rgba(0,0,255,0.55)" stroke-width="1.0"/>
<circle cx="750.01" cy="286.78" r="6.9" fill="rgba(0,0,255,0.5)" stroke="rgba(0,0,255,0.55)" stroke-width="1.0"/>
<circle cx="779.33" cy="286.78" r="4.25" fill="rgba(0,0,255,0.5)" stroke="rgba(0,0,255,0.55)" stroke-width="1.0"/>
<circle cx="793.99" cy="286.78" r="3.85" fill="rgba(0,0,255,0.5)" stroke="rgba(0,0,255,0.55)" stroke-width="1.0"/>
<circle cx="808.65" cy="286.78" r="6.1" fill="rgba(0,0,255,0.5)" stroke="rgba(0,0,255,0.55)" stroke-width="1.0"/>
<circle cx="837.97" cy="286.78" r="6.6" fill="rgba(0,0,255,0.5)" stroke="rgba(0,0,255,0.55)" stroke-width="1.0"/>
<circle cx="852.63" cy="286.78" r="3.85" fill="rgba(0,0,255,0.5)" stroke="rgba(0,0,255,0.55)" stroke-width="1.0"/>
<circle cx="867.28" cy="286.78" r="2.35" fill="rgba(0,0,255,0.5)" stroke="rgba(0,0,255,0.55)" stroke-width="1.0"/>
<circle cx="881.94" cy="286.78" r="4.75" fill="rgba(0,0,255,0.5)" stroke="rgba(0,0,255,0.55)" stroke-width="1.0"/>
<circle cx="940.58" cy="286.78" r="2.65" fill="rgba(0,0,255,0.5)" stroke="rgba(0,0,255,0.55)" stroke-width="1.0"/>
<circle cx="955.24" cy="286.78" r="6.25" fill="rgba(0,0,255,0.5)" stroke="rgba(0,0,255,0.55)" stroke-width="1.0"/>
<circle cx="969.9" cy="286.78" r="4.1" fill="rgba(0,0,255,0.5)" stroke="rgba(0,0,255,0.55)" stroke-width="1.0"/>
<circle cx="984.56" cy="286.78" r="6.6" fill="rgba(0,0,255,0.5)" stroke="rgba(0,0,255,0.55)" stroke-width="1.0"/>
<circle cx="1028.53" cy="286.78" r="3.1" fill="rgba(0,0,255,0.5)" stroke="rgba(0,0,255,0.55)" stroke-width="1.0"/>
<circle cx="1043.19" cy="286.78" r="0.9" fill="rgba(0,0,255,0.5)" stroke="rgba(0,0,255,0.55)" stroke-width="1.0"/>
<circle cx="1057.85" cy="286.78" r="1.35" fill="rgba(0,0,255,0.5)" stroke="rgba(0,0,255,0.55)" stroke-width="1.0"/>
<circle cx="1101.83" cy="286.78" r="3.35" fill="rgba(0,0,255,0.5)" stroke="rgba(0,0,255,0.55)" stroke-width="1.0"/>
<circle cx="1131.15" cy="286.78" r="7.85" fill="rgba(0,0,255,0.5)" stroke="rgba(0,0,255,0.55)" stroke-width="1.0"/>
<circle cx="706.04" cy="256.78" r="10.25" fill="rgba(0,0,255,0.5)" stroke="rgba(0,0,255,0.55)" stroke-width="1.0"/>
<circle cx="735.35" cy="256.78" r="3.15" fill="rgba(0,0,255,0.5)" stroke="rgba(0,0,255,0.55)" stroke-width="1.0"/>
<circle cx="750.01" cy="256.78" r="5.65" fill="rgba(0,0,255,0.5)" stroke="rgba(0,0,255,0.55)" stroke-width="1.0"/>
<circle cx="764.67" cy="256.78" r="5.5" fill="rgba(0,0,255,0.5)" stroke="rgba(0,0,255,0.55)" stroke-width="1.0"/>
<circle cx="808.65" cy="256.78" r="8.35" fill="rgba(0,0,255,0.5)" stroke="rgba(0,0,255,0.55)" stroke-width="1.0"/>
<circle cx="823.31" cy="256.78" r="5.5" fill="rgba(0,0,255,0.5)" stroke="rgba(0,0,255,0.55)" stroke-width="1.0"/>
<circle cx="852.63" cy="256.78" r="6.25" fill="rgba(0,0,255,0.5)" stroke="rgba(0,0,255,0.55)" stroke-width="1.0"/>
<circle cx="867.28" cy="256.78" r="4.55" fill="rgba(0,0,255,0.5)" stroke="rgba(0,0,255,0.55)" stroke-width="1.0"/>
<circle cx="940.58" cy="256.78" r="6.25" fill="rgba(0,0,255,0.5)" stroke="rgba(0,0,255,0.55)" stroke-width="1.0"/>
<circle cx="955.24" cy="256.78" r="7.15" fill="rgba(0,0,255,0.5)" stroke="rgba(0,0,255,0.55)" stroke-width="1.0"/>
<circle cx="984.56" cy="256.78" r="5.4" fill="rgba(0,0,255,0.5)" stroke="rgba(0,0,255,0.55)" stroke-width="1.0"/>
<circle cx="1013.88" cy="256.78" r="9.4" fill="rgba(0,0,255,0.5)" stroke="rgba(0,0,255,0.55)" stroke-width="1.0"/>
<circle cx="1072.51" cy="256.78" r="1.65" fill="rgba(0,0,255,0.5)" stroke="rgba(0,0,255,0.55)" stroke-width="1.0"/>
<circle cx="1101.83" cy="256.78" r="7" fill="rgba(0,0,255,0.5)" stroke="rgba(0,0,255,0.55)" stroke-width="1.0"/>
<circle cx="1116.49" cy="256.78" r="5" fill="rgba(0,0,255,0.5)" stroke="rgba(0,0,255,0.55)" stroke-width="1.0"/>
<circle cx="1131.15" cy="256.78" r="7.4" fill="rgba(0,0,255,0.5)" stroke="rgba(0,0,255,0.55)" stroke-width="1.0"/>
<circle cx="720.69" cy="226.78" r="6.9" fill="rgba(0,0,255,0.5)" stroke="rgba(0,0,255,0.55)" stroke-width="1.0"/>
<circle cx="735.35" cy="226.78" r="7.85" fill="rgba(0,0,255,0.5)" stroke="rgba(0,0,255,0.55)" stroke-width="1.0"/>
<circle cx="764.67" cy="226.78" r="5.25" fill="rgba(0,0,255,0.5)" stroke="rgba(0,0,255,0.55)" stroke-width="1.0"/>
<circle cx="793.99" cy="226.78" r="6" fill="rgba(0,0,255,0.5)" stroke="rgba(0,0,255,0.55)" stroke-width="1.0"/>
<circle cx="808.65" cy="226.78" r="6.65" fill="rgba(0,0,255,0.5)" stroke="rgba(0,0,255,0.55)" stroke-width="1.0"/>
<circle cx="823.31" cy="226.78" r="5.4" fill="rgba(0,0,255,0.5)" stroke="rgba(0,0,255,0.55)" stroke-width="1.0"/>
<circle cx="837.97" cy="226.78" r="5.4" fill="rgba(0,0,255,0.5)" stroke="rgba(0,0,255,0.55)" stroke-width="1.0"/>
<circle cx="867.28" cy="226.78" r="2.9" fill="rgba(0,0,255,0.5)" stroke="rgba(0,0,255,0.55)" stroke-width="1.0"/>
<circle cx="881.94" cy="226.78" r="2.65" fill="rgba(0,0,255,0.5)" stroke="rgba(0,0,255,0.55)" stroke-width="1.0"/>
<circle cx="940.58" cy="226.78" r="4.65" fill="rgba(0,0,255,0.5)" stroke="rgba(0,0,255,0.55)" stroke-width="1.0"/>
<circle cx="969.9" cy="226.78" r="6.65" fill="rgba(0,0,255,0.5)" stroke="rgba(0,0,255,0.55)" stroke-width="1.0"/>
<circle cx="999.22" cy="226.78" r="5.15" fill="rgba(0,0,255,0.5)" stroke="rgba(0,0,255,0.55)" stroke-width="1.0"/>
<circle cx="1013.88" cy="226.78" r="7.25" fill="rgba(0,0,255,0.5)" stroke="rgba(0,0,255,0.55)" stroke-width="1.0"/>
<circle cx="1028.53" cy="226.78" r="3.7" fill="rgba(0,0,255,0.5)" stroke="rgba(0,0,255,0.55)" stroke-width="1.0"/>
<circle cx="1101.83" cy="226.78" r="5.65" fill="rgba(0,0,255,0.5)" stroke="rgba(0,0,255,0.55)" stroke-width="1.0"/>
<rect x="626.88" y="34.78" width="554.1" height="324" fill="none" stroke="#000" stroke-linejoin="round" stroke-width="0.75"/>
<text x="912.78" y="54.68" font-size="12.9" letter-spacing="0.2" fill="#808080" text-anchor="middle">GERAS</text>
</g>
<g>
<circle cx="145.66" cy="587.14" r="7" fill="rgba(255,0,0,0.5)" stroke="rgba(255,0,0,0.55)" stroke-width="1.0"/>
<circle cx="174.97" cy="587.14" r="3.35" fill="rgba(255,0,0,0.5)" stroke="rgba(255,0,0,0.55)" stroke-width="1.0"/>
<circle cx="189.63" cy="587.14" r="5.15" fill="rgba(255,0,0,0.5)" stroke="rgba(255,0,0,0.55)" stroke-width="1.0"/>
<circle cx="248.27" cy="587.14" r="6.5" fill="rgba(255,0,0,0.5)" stroke="rgba(255,0,0,0.55)" stroke-width="1.0"/>
<circle cx="277.59" cy="587.14" r="1.5" fill="rgba(255,0,0,0.5)" stroke="rgba(255,0,0,0.55)" stroke-width="1.0"/>
<circle cx="365.54" cy="587.14" r="7" fill="rgba(255,0,0,0.5)" stroke="rgba(255,0,0,0.55)" stroke-width="1.0"/>
<circle cx="380.2" cy="587.14" r="2" fill="rgba(255,0,0,0.5)" stroke="rgba(255,0,0,0.55)" stroke-width="1.0"/>
<circle cx="424.18" cy="587.14" r="2.8" fill="rgba(255,0,0,0.5)" stroke="rgba(255,0,0,0.55)" stroke-width="1.0"/>
<circle cx="438.84" cy="587.14" r="5.1" fill="rgba(255,0,0,0.5)" stroke="rgba(255,0,0,0.55)" stroke-width="1.0"/>
<circle cx="468.15" cy="587.14" r="8.4" fill="rgba(255,0,0,0.5)" stroke="rgba(255,0,0,0.55)" stroke-width="1.0"/>
<circle cx="482.81" cy="587.14" r="0.35" fill="rgba(255,0,0,0.5)" stroke="rgba(255,0,0,0.55)" stroke-width="1.0"/>
<circle cx="497.47" cy="587.14" r="8.6" fill="rgba(255,0,0,0.5)" stroke="rgba(255,0,0,0.55)" stroke-width="1.0"/>
<circle cx="526.79" cy="587.14" r="3.5" fill="rgba(255,0,0,0.5)" stroke="rgba(255,0,0,0.55)" stroke-width="1.0"/>
<circle cx="541.45" cy="587.14" r="6.25" fill="rgba(255,0,0,0.5)" stroke="rgba(255,0,0,0.55)" stroke-width="1.0"/>
<circle cx="570.77" cy="587.14" r="5.4" fill="rgba(255,0,0,0.5)" stroke="rgba(255,0,0,0.55)" stroke-width="1.0"/>
<circle cx="585.43" cy="587.14" r="7.35" fill="rgba(255,0,0,0.5)" stroke="rgba(255,0,0,0.55)" stroke-width="1.0"/>
<circle cx="131" cy="557.14" r="5.5" fill="rgba(255,0,0,0.5)" stroke="rgba(255,0,0,0.55)" stroke-width="1.0"/>
<circle cx="174.97" cy="557.14" r="7.5" fill="rgba(255,0,0,0.5)" stroke="rgba(255,0,0,0.55)" stroke-width="1.0"/>
<circle cx="233.61" cy="557.14" r="2.5" fill="rgba(255,0,0,0.5)" stroke="rgba(255,0,0,0.55)" stroke-width="1.0"/>
<circle cx="248.27" cy="557.14" r="2.5" fill="rgba(255,0,0,0.5)" stroke="rgba(255,0,0,0.55)" stroke-width="1.0"/>
<circle cx="277.59" cy="557.14" r="5.9" fill="rgba(255,0,0,0.5)" stroke="rgba(255,0,0,0.55)" stroke-width="1.0"/>
<circle cx="306.91" cy="557.14" r="5.4" fill="rgba(255,0,0,0.5)" stroke="rgba(255,0,0,0.55)" stroke-width="1.0"/>
<circle cx="336.22" cy="557.14" r="4.9" fill="rgba(255,0,0,0.5)" stroke="rgba(255,0,0,0.55)" stroke-width="1.0"/>
<circle cx="365.54" cy="557.14" r="1.4" fill="rgba(255,0,0,0.5)" stroke="rgba(255,0,0,0.55)" stroke-width="1.0"/>
<circle cx="380.2" cy="557.14" r="4.75" fill="rgba(255,0,0,0.5)" stroke="rgba(255,0,0,0.55)" stroke-width="1.0"/>
<circle cx="394.86" cy="557.14" r="6.65" fill="rgba(255,0,0,0.5)" stroke="rgba(255,0,0,0.55)" stroke-width="1.0"/>
<circle cx="409.52" cy="557.14" r="6.6" fill="rgba(255,0,0,0.5)" stroke="rgba(255,0,0,0.55)" stroke-width="1.0"/>
<circle cx="424.18" cy="557.14" r="2.8" fill="rgba(255,0,0,0.5)" stroke="rgba(255,0,0,0.55)" stroke-width="1.0"/>
<circle cx="438.84" cy="557.14" r="8.4" fill="rgba(255,0,0,0.5)" stroke="rgba(255,0,0,0.55)" stroke-width="1.0"/>
<circle cx="512.13" cy="557.14" r="1.9" fill="rgba(255,0,0,0.5)" stroke="rgba(255,0,0,0.55)" stroke-width="1.0"/>
<circle cx="526.79" cy="557.14" r="2.75" fill="rgba(255,0,0,0.5)" stroke="rgba(255,0,0,0.55)" stroke-width="1.0"/>
<circle cx="556.11" cy="557.14" r="9.6" fill="rgba(255,0,0,0.5)" stroke="rgba(255,0,0,0.55)" stroke-width="1.0"/>
<circle cx="570.77" cy="557.14" r="1.65" fill="rgba(255,0,0,0.5)" stroke="rgba(255,0,0,0.55)" stroke-width="1.0"/>
<circle cx="585.43" cy="557.14" r="9.25" fill="rgba(255,0,0,0.5)" stroke="rgba(255,0,0,0.55)" stroke-width="1.0"/>
<circle cx="131" cy="527.14" r="1.85" fill="rgba(255,0,0,0.5)" stroke="rgba(255,0,0,0.55)" stroke-width="1.0"/>
<circle cx="174.97" cy="527.14" r="3.6" fill="rgba(255,0,0,0.5)" stroke="rgba(255,0,0,0.55)" stroke-width="1.0"/>
<circle cx="189.63" cy="527.14" r="5.35" fill="rgba(255,0,0,0.5)" stroke="rgba(255,0,0,0.55)" stroke-width="1.0"/>
<circle cx="204.29" cy="527.14" r="7.35" fill="rgba(255,0,0,0.5)" stroke="rgba(255,0,0,0.55)" stroke-width="1.0"/>
<circle cx="233.61" cy="527.14" r="3.65" fill="rgba(255,0,0,0.5)" stroke="rgba(255,0,0,0.55)" stroke-width="1.0"/>
<circle cx="248.27" cy="527.14" r="4.75" fill="rgba(255,0,0,0.5)" stroke="rgba(255,0,0,0.55)" stroke-width="1.0"/>
<circle cx="262.93" cy="527.14" r="1" fill="rgba(255,0,0,0.5)" stroke="rgba(255,0,0,0.55)" stroke-width="1.0"/>
<circle cx="277.59" cy="527.14" r="3.25" fill="rgba(255,0,0,0.5)" stroke="rgba(255,0,0,0.55)" stroke-width="1.0"/>
<circle cx="306.91" cy="527.14" r="4.75" fill="rgba(255,0,0,0.5)" stroke="rgba(255,0,0,0.55)" stroke-width="1.0"/>
<circle cx="394.86" cy="527.14" r="1.6" fill="rgba(255,0,0,0.5)" stroke="rgba(255,0,0,0.55)" stroke-width="1.0"/>
<circle cx="409.52" cy="527.14" r="7" fill="rgba(255,0,0,0.5)" stroke="rgba(255,0,0,0.55)" stroke-width="1.0"/>
<circle cx="424.18" cy="527.14" r="10.15" fill="rgba(255,0,0,0.5)" stroke="rgba(255,0,0,0.55)" stroke-width="1.0"/>
<circle cx="453.5" cy="527.14" r="3.05" fill="rgba(255,0,0,0.5)" stroke="rgba(255,0,0,0.55)" stroke-width="1.0"/>
<circle cx="468.15" cy="527.14" r="4.15" fill="rgba(255,0,0,0.5)" stroke="rgba(255,0,0,0.55)" stroke-width="1.0"/>
<circle cx="512.13" cy="527.14" r="2.6" fill="rgba(255,0,0,0.5)" stroke="rgba(255,0,0,0.55)" stroke-width="1.0"/>
<circle cx="570.77" cy="527.14" r="6.1" fill="rgba(255,0,0,0.5)" stroke="rgba(255,0,0,0.55)" stroke-width="1.0"/>
<circle cx="116.34" cy="497.14" r="5.35" fill="rgba(255,0,0,0.5)" stroke="rgba(255,0,0,0.55)" stroke-width="1.0"/>
<circle cx="131" cy="497.14" r="1.6" fill="rgba(255,0,0,0.5)" stroke="rgba(255,0,0,0.55)" stroke-width="1.0"/>
<circle cx="160.31" cy="497.14" r="6.85" fill="rgba(255,0,0,0.5)" stroke="rgba(255,0,0,0.55)" stroke-width="1.0"/>
<circle cx="174.97" cy="497.14" r="2.6" fill="rgba(255,0,0,0.5)" stroke="rgba(255,0,0,0.55)" stroke-width="1.0"/>
<circle cx="189.63" cy="497.14" r="5.65" fill="rgba(255,0,0,0.5)" stroke="rgba(255,0,0,0.55)" stroke-width="1.0"/>
<circle cx="248.27" cy="497.14" r="1.6" fill="rgba(255,0,0,0.5)" stroke="rgba(255,0,0,0.55)" stroke-width="1.0"/>
<circle cx="262.93" cy="497.14" r="6.9" fill="rgba(255,0,0,0.5)" stroke="rgba(255,0,0,0.55)" stroke-width="1.0"/>
<circle cx="277.59" cy="497.14" r="5.9" fill="rgba(255,0,0,0.5)" stroke="rgba(255,0,0,0.55)" stroke-width="1.0"/>
<circle cx="292.25" cy="497.14" r="4.15" fill="rgba(255,0,0,0.5)" stroke="rgba(255,0,0,0.55)" stroke-width="1.0"/>
<circle cx="321.56" cy="497.14" r="2.6" fill="rgba(255,0,0,0.5)" stroke="rgba(255,0,0,0.55)" stroke-width="1.0"/>
<circle cx="380.2" cy="497.14" r="3.1" fill="rgba(255,0,0,0.5)" stroke="rgba(255,0,0,0.55)" stroke-width="1.0"/>
<circle cx="394.86" cy="497.14" r="1" fill="rgba(255,0,0,0.5)" stroke="rgba(255,0,0,0.55)" stroke-width="1.0"/>
<circle cx="424.18" cy="497.14" r="4.7" fill="rgba(255,0,0,0.5)" stroke="rgba(255,0,0,0.55)" stroke-width="1.0"/>
<circle cx="438.84" cy="497.14" r="9.55" fill="rgba(255,0,0,0.5)" stroke="rgba(255,0,0,0.55)" stroke-width="1.0"/>
<circle cx="468.15" cy="497.14" r="6.9" fill="rgba(255,0,0,0.5)" stroke="rgba(255,0,0,0.55)" stroke-width="1.0"/>
<circle cx="541.45" cy="497.14" r="6.65" fill="rgba(255,0,0,0.5)" stroke="rgba(255,0,0,0.55)" stroke-width="1.0"/>
<circle cx="570.77" cy="497.14" r="3.9" fill="rgba(255,0,0,0.5)" stroke="rgba(255,0,0,0.55)" stroke-width="1.0"/>
<circle cx="585.43" cy="497.14" r="4.25" fill="rgba(255,0,0,0.5)" stroke="rgba(255,0,0,0.55)" stroke-width="1.0"/>
<circle cx="116.34" cy="467.14" r="6.25" fill="rgba(255,0,0,0.5)" stroke="rgba(255,0,0,0.55)" stroke-width="1.0"/>
<circle cx="131" cy="467.14" r="5.85" fill="rgba(255,0,0,0.5)" stroke="rgba(255,0,0,0.55)" stroke-width="1.0"/>
<circle cx="174.97" cy="467.14" r="5.9" fill="rgba(255,0,0,0.5)" stroke="rgba(255,0,0,0.55)" stroke-width="1.0"/>
<circle cx="204.29" cy="467.14" r="0.6" fill="rgba(255,0,0,0.5)" stroke="rgba(255,0,0,0.55)" stroke-width="1.0"/>
<circle cx="233.61" cy="467.14" r="8.1" fill="rgba(255,0,0,0.5)" stroke="rgba(255,0,0,0.55)" stroke-width="1.0"/>
<circle cx="262.93" cy="467.14" r="1.15" fill="rgba(255,0,0,0.5)" stroke="rgba(255,0,0,0.55)" stroke-width="1.0"/>
<circle cx="277.59" cy="467.14" r="5.15" fill="rgba(255,0,0,0.5)" stroke="rgba(255,0,0,0.55)" stroke-width="1.0"/>
<circle cx="321.56" cy="467.14" r="9.85" fill="rgba(255,0,0,0.5)" stroke="rgba(255,0,0,0.55)" stroke-width="1.0"/>
<circle cx="336.22" cy="467.14" r="5.15" fill="rgba(255,0,0,0.5)" stroke="rgba(255,0,0,0.55)" stroke-width="1.0"/>
<circle cx="424.18" cy="467.14" r="4.6" fill="rgba(255,0,0,0.5)" stroke="rgba(255,0,0,0.55)" stroke-width="1.0"/>
<circle cx="585.43" cy="467.14" r="3.75" fill="rgba(255,0,0,0.5)" stroke="rgba(255,0,0,0.55)" stroke-width="1.0"/>
<circle cx="101.68" cy="587.14" r="6.15" fill="rgba(0,0,255,0.5)" stroke="rgba(0,0,255,0.55)" stroke-width="1.0"/>
<circle cx="116.34" cy="587.14" r="5.85" fill="rgba(0,0,255,0.5)" stroke="rgba(0,0,255,0.55)" stroke-width="1.0"/>
<circle cx="131" cy="587.14" r="7.5" fill="rgba(0,0,255,0.5)" stroke="rgba(0,0,255,0.55)" stroke-width="1.0"/>
<circle cx="160.31" cy="587.14" r="8.15" fill="rgba(0,0,255,0.5)" stroke="rgba(0,0,255,0.55)" stroke-width="1.0"/>
<circle cx="204.29" cy="587.14" r="4" fill="rgba(0,0,255,0.5)" stroke="rgba(0,0,255,0.55)" stroke-width="1.0"/>
<circle cx="233.61" cy="587.14" r="5.15" fill="rgba(0,0,255,0.5)" stroke="rgba(0,0,255,0.55)" stroke-width="1.0"/>
<circle cx="262.93" cy="587.14" r="6.85" fill="rgba(0,0,255,0.5)" stroke="rgba(0,0,255,0.55)" stroke-width="1.0"/>
<circle cx="292.25" cy="587.14" r="2.5" fill="rgba(0,0,255,0.5)" stroke="rgba(0,0,255,0.55)" stroke-width="1.0"/>
<circle cx="306.91" cy="587.14" r="3.85" fill="rgba(0,0,255,0.5)" stroke="rgba(0,0,255,0.55)" stroke-width="1.0"/>
<circle cx="321.56" cy="587.14" r="8.15" fill="rgba(0,0,255,0.5)" stroke="rgba(0,0,255,0.55)" stroke-width="1.0"/>
<circle cx="336.22" cy="587.14" r="9.1" fill="rgba(0,0,255,0.5)" stroke="rgba(0,0,255,0.55)" stroke-width="1.0"/>
<circle cx="350.88" cy="587.14" r="5.4" fill="rgba(0,0,255,0.5)" stroke="rgba(0,0,255,0.55)" stroke-width="1.0"/>
<circle cx="394.86" cy="587.14" r="3.35" fill="rgba(0,0,255,0.5)" stroke="rgba(0,0,255,0.55)" stroke-width="1.0"/>
<circle cx="409.52" cy="587.14" r="2.75" fill="rgba(0,0,255,0.5)" stroke="rgba(0,0,255,0.55)" stroke-width="1.0"/>
<circle cx="453.5" cy="587.14" r="6.25" fill="rgba(0,0,255,0.5)" stroke="rgba(0,0,255,0.55)" stroke-width="1.0"/>
<circle cx="512.13" cy="587.14" r="4.4" fill="rgba(0,0,255,0.5)" stroke="rgba(0,0,255,0.55)" stroke-width="1.0"/>
<circle cx="556.11" cy="587.14" r="4.15" fill="rgba(0,0,255,0.5)" stroke="rgba(0,0,255,0.55)" stroke-width="1.0"/>
<circle cx="101.68" cy="557.14" r="1.35" fill="rgba(0,0,255,0.5)" stroke="rgba(0,0,255,0.55)" stroke-width="1.0"/>
<circle cx="116.34" cy="557.14" r="6.15" fill="rgba(0,0,255,0.5)" stroke="rgba(0,0,255,0.55)" stroke-width="1.0"/>
<circle cx="145.66" cy="557.14" r="7.5" fill="rgba(0,0,255,0.5)" stroke="rgba(0,0,255,0.55)" stroke-width="1.0"/>
<circle cx="160.31" cy="557.14" r="4.5" fill="rgba(0,0,255,0.5)" stroke="rgba(0,0,255,0.55)" stroke-width="1.0"/>
<circle cx="189.63" cy="557.14" r="5.5" fill="rgba(0,0,255,0.5)" stroke="rgba(0,0,255,0.55)" stroke-width="1.0"/>
<circle cx="204.29" cy="557.14" r="5.15" fill="rgba(0,0,255,0.5)" stroke="rgba(0,0,255,0.55)" stroke-width="1.0"/>
<circle cx="262.93" cy="557.14" r="2.15" fill="rgba(0,0,255,0.5)" stroke="rgba(0,0,255,0.55)" stroke-width="1.0"/>
<circle cx="292.25" cy="557.14" r="3.6" fill="rgba(0,0,255,0.5)" stroke="rgba(0,0,255,0.55)" stroke-width="1.0"/>
<circle cx="321.56" cy="557.14" r="5" fill="rgba(0,0,255,0.5)" stroke="rgba(0,0,255,0.55)" stroke-width="1.0"/>
<circle cx="350.88" cy="557.14" r="2.85" fill="rgba(0,0,255,0.5)" stroke="rgba(0,0,255,0.55)" stroke-width="1.0"/>
<circle cx="453.5" cy="557.14" r="2.25" fill="rgba(0,0,255,0.5)" stroke="rgba(0,0,255,0.55)" stroke-width="1.0"/>
<circle cx="468.15" cy="557.14" r="6.2" fill="rgba(0,0,255,0.5)" stroke="rgba(0,0,255,0.55)" stroke-width="1.0"/>
<circle cx="482.81" cy="557.14" r="7.75" fill="rgba(0,0,255,0.5)" stroke="rgba(0,0,255,0.55)" stroke-width="1.0"/>
<circle cx="497.47" cy="557.14" r="9.1" fill="rgba(0,0,255,0.5)" stroke="rgba(0,0,255,0.55)" stroke-width="1.0"/>
<circle cx="541.45" cy="557.14" r="8" fill="rgba(0,0,255,0.5)" stroke="rgba(0,0,255,0.55)" stroke-width="1.0"/>
<circle cx="101.68" cy="527.14" r="9" fill="rgba(0,0,255,0.5)" stroke="rgba(0,0,255,0.55)" stroke-width="1.0"/>
<circle cx="116.34" cy="527.14" r="3.25" fill="rgba(0,0,255,0.5)" stroke="rgba(0,0,255,0.55)" stroke-width="1.0"/>
<circle cx="145.66" cy="527.14" r="0.65" fill="rgba(0,0,255,0.5)" stroke="rgba(0,0,255,0.55)" stroke-width="1.0"/>
<circle cx="160.31" cy="527.14" r="8.4" fill="rgba(0,0,255,0.5)" stroke="rgba(0,0,255,0.55)" stroke-width="1.0"/>
<circle cx="292.25" cy="527.14" r="4" fill="rgba(0,0,255,0.5)" stroke="rgba(0,0,255,0.55)" stroke-width="1.0"/>
<circle cx="321.56" cy="527.14" r="0.6" fill="rgba(0,0,255,0.5)" stroke="rgba(0,0,255,0.55)" stroke-width="1.0"/>
<circle cx="336.22" cy="527.14" r="1.75" fill="rgba(0,0,255,0.5)" stroke="rgba(0,0,255,0.55)" stroke-width="1.0"/>
<circle cx="350.88" cy="527.14" r="4.35" fill="rgba(0,0,255,0.5)" stroke="rgba(0,0,255,0.55)" stroke-width="1.0"/>
<circle cx="365.54" cy="527.14" r="2.9" fill="rgba(0,0,255,0.5)" stroke="rgba(0,0,255,0.55)" stroke-width="1.0"/>
<circle cx="380.2" cy="527.14" r="3" fill="rgba(0,0,255,0.5)" stroke="rgba(0,0,255,0.55)" stroke-width="1.0"/>
<circle cx="438.84" cy="527.14" r="6.2" fill="rgba(0,0,255,0.5)" stroke="rgba(0,0,255,0.55)" stroke-width="1.0"/>
<circle cx="482.81" cy="527.14" r="3.25" fill="rgba(0,0,255,0.5)" stroke="rgba(0,0,255,0.55)" stroke-width="1.0"/>
<circle cx="497.47" cy="527.14" r="2.4" fill="rgba(0,0,255,0.5)" stroke="rgba(0,0,255,0.55)" stroke-width="1.0"/>
<circle cx="526.79" cy="527.14" r="6.15" fill="rgba(0,0,255,0.5)" stroke="rgba(0,0,255,0.55)" stroke-width="1.0"/>
<circle cx="541.45" cy="527.14" r="5.1" fill="rgba(0,0,255,0.5)" stroke="rgba(0,0,255,0.55)" stroke-width="1.0"/>
<circle cx="556.11" cy="527.14" r="6.25" fill="rgba(0,0,255,0.5)" stroke="rgba(0,0,255,0.55)" stroke-width="1.0"/>
<circle cx="585.43" cy="527.14" r="1.15" fill="rgba(0,0,255,0.5)" stroke="rgba(0,0,255,0.55)" stroke-width="1.0"/>
<circle cx="101.68" cy="497.14" r="2.15" fill="rgba(0,0,255,0.5)" stroke="rgba(0,0,255,0.55)" stroke-width="1.0"/>
<circle cx="145.66" cy="497.14" r="1.4" fill="rgba(0,0,255,0.5)" stroke="rgba(0,0,255,0.55)" stroke-width="1.0"/>
<circle cx="204.29" cy="497.14" r="5" fill="rgba(0,0,255,0.5)" stroke="rgba(0,0,255,0.55)" stroke-width="1.0"/>
<circle cx="233.61" cy="497.14" r="5" fill="rgba(0,0,255,0.5)" stroke="rgba(0,0,255,0.55)" stroke-width="1.0"/>
<circle cx="306.91" cy="497.14" r="4.5" fill="rgba(0,0,255,0.5)" stroke="rgba(0,0,255,0.55)" stroke-width="1.0"/>
<circle cx="336.22" cy="497.14" r="0.65" fill="rgba(0,0,255,0.5)" stroke="rgba(0,0,255,0.55)" stroke-width="1.0"/>
<circle cx="350.88" cy="497.14" r="5.9" fill="rgba(0,0,255,0.5)" stroke="rgba(0,0,255,0.55)" stroke-width="1.0"/>
<circle cx="365.54" cy="497.14" r="2.25" fill="rgba(0,0,255,0.5)" stroke="rgba(0,0,255,0.55)" stroke-width="1.0"/>
<circle cx="409.52" cy="497.14" r="4.1" fill="rgba(0,0,255,0.5)" stroke="rgba(0,0,255,0.55)" stroke-width="1.0"/>
<circle cx="453.5" cy="497.14" r="2.35" fill="rgba(0,0,255,0.5)" stroke="rgba(0,0,255,0.55)" stroke-width="1.0"/>
<circle cx="482.81" cy="497.14" r="1.25" fill="rgba(0,0,255,0.5)" stroke="rgba(0,0,255,0.55)" stroke-width="1.0"/>
<circle cx="497.47" cy="497.14" r="5.1" fill="rgba(0,0,255,0.5)" stroke="rgba(0,0,255,0.55)" stroke-width="1.0"/>
<circle cx="512.13" cy="497.14" r="0.5" fill="rgba(0,0,255,0.5)" stroke="rgba(0,0,255,0.55)" stroke-width="1.0"/>
<circle cx="526.79" cy="497.14" r="3.6" fill="rgba(0,0,255,0.5)" stroke="rgba(0,0,255,0.55)" stroke-width="1.0"/>
<circle cx="556.11" cy="497.14" r="5.75" fill="rgba(0,0,255,0.5)" stroke="rgba(0,0,255,0.55)" stroke-width="1.0"/>
<circle cx="101.68" cy="467.14" r="2.35" fill="rgba(0,0,255,0.5)" stroke="rgba(0,0,255,0.55)" stroke-width="1.0"/>
<circle cx="145.66" cy="467.14" r="3" fill="rgba(0,0,255,0.5)" stroke="rgba(0,0,255,0.55)" stroke-width="1.0"/>
<circle cx="160.31" cy="467.14" r="0.75" fill="rgba(0,0,255,0.5)" stroke="rgba(0,0,255,0.55)" stroke-width="1.0"/>
<circle cx="189.63" cy="467.14" r="7.85" fill="rgba(0,0,255,0.5)" stroke="rgba(0,0,255,0.55)" stroke-width="1.0"/>
<circle cx="248.27" cy="467.14" r="2.9" fill="rgba(0,0,255,0.5)" stroke="rgba(0,0,255,0.55)" stroke-width="1.0"/>
<circle cx="292.25" cy="467.14" r="2.15" fill="rgba(0,0,255,0.5)" stroke="rgba(0,0,255,0.55)" stroke-width="1.0"/>
<circle cx="306.91" cy="467.14" r="3.4" fill="rgba(0,0,255,0.5)" stroke="rgba(0,0,255,0.55)" stroke-width="1.0"/>
<circle cx="350.88" cy="467.14" r="7.85" fill="rgba(0,0,255,0.5)" stroke="rgba(0,0,255,0.55)" stroke-width="1.0"/>
<circle cx="365.54" cy="467.14" r="7.6" fill="rgba(0,0,255,0.5)" stroke="rgba(0,0,255,0.55)" stroke-width="1.0"/>
<circle cx="380.2" cy="467.14" r="4.65" fill="rgba(0,0,255,0.5)" stroke="rgba(0,0,255,0.55)" stroke-width="1.0"/>
<circle cx="394.86" cy="467.14" r="6.35" fill="rgba(0,0,255,0.5)" stroke="rgba(0,0,255,0.55)" stroke-width="1.0"/>
<circle cx="409.52" cy="467.14" r="5.65" fill="rgba(0,0,255,0.5)" stroke="rgba(0,0,255,0.55)" stroke-width="1.0"/>
<circle cx="438.84" cy="467.14" r="9.6" fill="rgba(0,0,255,0.5)" stroke="rgba(0,0,255,0.55)" stroke-width="1.0"/>
<circle cx="453.5" cy="467.14" r="9.6" fill="rgba(0,0,255,0.5)" stroke="rgba(0,0,255,0.55)" stroke-width="1.0"/>
<circle cx="468.15" cy="467.14" r="4.6" fill="rgba(0,0,255,0.5)" stroke="rgba(0,0,255,0.55)" stroke-width="1.0"/>
<circle cx="482.81" cy="467.14" r="7.75" fill="rgba(0,0,255,0.5)" stroke="rgba(0,0,255,0.55)" stroke-width="1.0"/>
<circle cx="497.47" cy="467.14" r="7" fill="rgba(0,0,255,0.5)" stroke="rgba(0,0,255,0.55)" stroke-width="1.0"/>
<circle cx="512.13" cy="467.14" r="1.6" fill="rgba(0,0,255,0.5)" stroke="rgba(0,0,255,0.55)" stroke-width="1.0"/>
<circle cx="526.79" cy="467.14" r="8.4" fill="rgba(0,0,255,0.5)" stroke="rgba(0,0,255,0.55)" stroke-width="1.0"/>
<circle cx="541.45" cy="467.14" r="7.6" fill="rgba(0,0,255,0.5)" stroke="rgba(0,0,255,0.55)" stroke-width="1.0"/>
<circle cx="556.11" cy="467.14" r="6" fill="rgba(0,0,255,0.5)" stroke="rgba(0,0,255,0.55)" stroke-width="1.0"/>
<circle cx="570.77" cy="467.14" r="3.65" fill="rgba(0,0,255,0.5)" stroke="rgba(0,0,255,0.55)" stroke-width="1.0"/>
<rect x="66.5" y="365.14" width="554.1" height="324" fill="none" stroke="#000" stroke-linejoin="round" stroke-width="0.75"/>
<text x="352.4" y="385.29" font-size="12.9" letter-spacing="0.2" fill="#808080" text-anchor="middle">HERAS</text>
<line x1="66.5" y1="647.14" x2="66.5" y2="407.14" stroke="#000" stroke-width="0.75"/>
<line x1="58.1" y1="647.14" x2="66.5" y2="647.14" stroke="#000" stroke-width="0.75"/>
<text transform="translate(47.9 647.44) rotate(-90)" font-size="12.4" text-anchor="middle" fill="#000">0</text>
<line x1="58.1" y1="587.14" x2="66.5" y2="587.14" stroke="#000" stroke-width="0.75"/>
<text transform="translate(47.9 587.44) rotate(-90)" font-size="12.4" text-anchor="middle" fill="#000">2</text>
<line x1="58.1" y1="527.14" x2="66.5" y2="527.14" stroke="#000" stroke-width="0.75"/>
<text transform="translate(47.9 527.44) rotate(-90)" font-size="12.4" text-anchor="middle" fill="#000">4</text>
<line x1="58.1" y1="467.14" x2="66.5" y2="467.14" stroke="#000" stroke-width="0.75"/>
<text transform="translate(47.9 467.44) rotate(-90)" font-size="12.4" text-anchor="middle" fill="#000">6</text>
<line x1="58.1" y1="407.14" x2="66.5" y2="407.14" stroke="#000" stroke-width="0.75"/>
<text transform="translate(47.9 407.44) rotate(-90)" font-size="12.4" text-anchor="middle" fill="#000">8</text>
</g>
<g>
<circle cx="823.31" cy="557.14" r="3.25" fill="rgba(255,0,0,0.5)" stroke="rgba(255,0,0,0.55)" stroke-width="1.0"/>
<circle cx="837.97" cy="557.14" r="5.85" fill="rgba(255,0,0,0.5)" stroke="rgba(255,0,0,0.55)" stroke-width="1.0"/>
<circle cx="881.94" cy="557.14" r="4" fill="rgba(255,0,0,0.5)" stroke="rgba(255,0,0,0.55)" stroke-width="1.0"/>
<circle cx="896.6" cy="557.14" r="7.35" fill="rgba(255,0,0,0.5)" stroke="rgba(255,0,0,0.55)" stroke-width="1.0"/>
<circle cx="911.26" cy="557.14" r="6.4" fill="rgba(255,0,0,0.5)" stroke="rgba(255,0,0,0.55)" stroke-width="1.0"/>
<circle cx="925.92" cy="557.14" r="6.4" fill="rgba(255,0,0,0.5)" stroke="rgba(255,0,0,0.55)" stroke-width="1.0"/>
<circle cx="999.22" cy="557.14" r="8.7" fill="rgba(255,0,0,0.5)" stroke="rgba(255,0,0,0.55)" stroke-width="1.0"/>
<circle cx="1013.88" cy="557.14" r="7.75" fill="rgba(255,0,0,0.5)" stroke="rgba(255,0,0,0.55)" stroke-width="1.0"/>
<circle cx="1028.53" cy="557.14" r="3.25" fill="rgba(255,0,0,0.5)" stroke="rgba(255,0,0,0.55)" stroke-width="1.0"/>
<circle cx="1116.49" cy="557.14" r="4.4" fill="rgba(255,0,0,0.5)" stroke="rgba(255,0,0,0.55)" stroke-width="1.0"/>
<circle cx="823.31" cy="527.14" r="4.35" fill="rgba(255,0,0,0.5)" stroke="rgba(255,0,0,0.55)" stroke-width="1.0"/>
<circle cx="881.94" cy="527.14" r="2.65" fill="rgba(255,0,0,0.5)" stroke="rgba(255,0,0,0.55)" stroke-width="1.0"/>
<circle cx="896.6" cy="527.14" r="2.15" fill="rgba(255,0,0,0.5)" stroke="rgba(255,0,0,0.55)" stroke-width="1.0"/>
<circle cx="1013.88" cy="527.14" r="6.75" fill="rgba(255,0,0,0.5)" stroke="rgba(255,0,0,0.55)" stroke-width="1.0"/>
<circle cx="1028.53" cy="527.14" r="6" fill="rgba(255,0,0,0.5)" stroke="rgba(255,0,0,0.55)" stroke-width="1.0"/>
<circle cx="1043.19" cy="527.14" r="2.9" fill="rgba(255,0,0,0.5)" stroke="rgba(255,0,0,0.55)" stroke-width="1.0"/>
<circle cx="1057.85" cy="527.14" r="4.15" fill="rgba(255,0,0,0.5)" stroke="rgba(255,0,0,0.55)" stroke-width="1.0"/>
<circle cx="1072.51" cy="527.14" r="4.9" fill="rgba(255,0,0,0.5)" stroke="rgba(255,0,0,0.55)" stroke-width="1.0"/>
<circle cx="1087.17" cy="527.14" r="2.65" fill="rgba(255,0,0,0.5)" stroke="rgba(255,0,0,0.55)" stroke-width="1.0"/>
<circle cx="1101.83" cy="527.14" r="5.6" fill="rgba(255,0,0,0.5)" stroke="rgba(255,0,0,0.55)" stroke-width="1.0"/>
<circle cx="1116.49" cy="527.14" r="3.35" fill="rgba(255,0,0,0.5)" stroke="rgba(255,0,0,0.55)" stroke-width="1.0"/>
<circle cx="1131.15" cy="527.14" r="7.15" fill="rgba(255,0,0,0.5)" stroke="rgba(255,0,0,0.55)" stroke-width="1.0"/>
<circle cx="1145.81" cy="527.14" r="5.35" fill="rgba(255,0,0,0.5)" stroke="rgba(255,0,0,0.55)" stroke-width="1.0"/>
<circle cx="823.31" cy="497.14" r="4.1" fill="rgba(255,0,0,0.5)" stroke="rgba(255,0,0,0.55)" stroke-width="1.0"/>
<circle cx="925.92" cy="497.14" r="6.5" fill="rgba(255,0,0,0.5)" stroke="rgba(255,0,0,0.55)" stroke-width="1.0"/>
<circle cx="969.9" cy="497.14" r="5.15" fill="rgba(255,0,0,0.5)" stroke="rgba(255,0,0,0.55)" stroke-width="1.0"/>
<circle cx="984.56" cy="497.14" r="6.3" fill="rgba(255,0,0,0.5)" stroke="rgba(255,0,0,0.55)" stroke-width="1.0"/>
<circle cx="999.22" cy="497.14" r="0.8" fill="rgba(255,0,0,0.5)" stroke="rgba(255,0,0,0.55)" stroke-width="1.0"/>
<circle cx="1013.88" cy="497.14" r="3.25" fill="rgba(255,0,0,0.5)" stroke="rgba(255,0,0,0.55)" stroke-width="1.0"/>
<circle cx="1072.51" cy="497.14" r="6.65" fill="rgba(255,0,0,0.5)" stroke="rgba(255,0,0,0.55)" stroke-width="1.0"/>
<circle cx="1131.15" cy="497.14" r="4.6" fill="rgba(255,0,0,0.5)" stroke="rgba(255,0,0,0.55)" stroke-width="1.0"/>
<circle cx="1145.81" cy="497.14" r="10.5" fill="rgba(255,0,0,0.5)" stroke="rgba(255,0,0,0.55)" stroke-width="1.0"/>
<circle cx="852.63" cy="557.14" r="5.35" fill="rgba(0,0,255,0.5)" stroke="rgba(0,0,255,0.55)" stroke-width="1.0"/>
<circle cx="867.28" cy="557.14" r="1.1" fill="rgba(0,0,255,0.5)" stroke="rgba(0,0,255,0.55)" stroke-width="1.0"/>
<circle cx="940.58" cy="557.14" r="5.85" fill="rgba(0,0,255,0.5)" stroke="rgba(0,0,255,0.55)" stroke-width="1.0"/>
<circle cx="955.24" cy="557.14" r="7" fill="rgba(0,0,255,0.5)" stroke="rgba(0,0,255,0.55)" stroke-width="1.0"/>
<circle cx="969.9" cy="557.14" r="1.75" fill="rgba(0,0,255,0.5)" stroke="rgba(0,0,255,0.55)" stroke-width="1.0"/>
<circle cx="984.56" cy="557.14" r="5.3" fill="rgba(0,0,255,0.5)" stroke="rgba(0,0,255,0.55)" stroke-width="1.0"/>
<circle cx="1043.19" cy="557.14" r="6" fill="rgba(0,0,255,0.5)" stroke="rgba(0,0,255,0.55)" stroke-width="1.0"/>
<circle cx="1057.85" cy="557.14" r="2.25" fill="rgba(0,0,255,0.5)" stroke="rgba(0,0,255,0.55)" stroke-width="1.0"/>
<circle cx="1072.51" cy="557.14" r="4.85" fill="rgba(0,0,255,0.5)" stroke="rgba(0,0,255,0.55)" stroke-width="1.0"/>
<circle cx="1087.17" cy="557.14" r="2" fill="rgba(0,0,255,0.5)" stroke="rgba(0,0,255,0.55)" stroke-width="1.0"/>
<circle cx="1101.83" cy="557.14" r="5.9" fill="rgba(0,0,255,0.5)" stroke="rgba(0,0,255,0.55)" stroke-width="1.0"/>
<circle cx="1131.15" cy="557.14" r="6.5" fill="rgba(0,0,255,0.5)" stroke="rgba(0,0,255,0.55)" stroke-width="1.0"/>
<circle cx="1145.81" cy="557.14" r="9.6" fill="rgba(0,0,255,0.5)" stroke="rgba(0,0,255,0.55)" stroke-width="1.0"/>
<circle cx="837.97" cy="527.14" r="3" fill="rgba(0,0,255,0.5)" stroke="rgba(0,0,255,0.55)" stroke-width="1.0"/>
<circle cx="852.63" cy="527.14" r="4.5" fill="rgba(0,0,255,0.5)" stroke="rgba(0,0,255,0.55)" stroke-width="1.0"/>
<circle cx="867.28" cy="527.14" r="5.1" fill="rgba(0,0,255,0.5)" stroke="rgba(0,0,255,0.55)" stroke-width="1.0"/>
<circle cx="911.26" cy="527.14" r="4.6" fill="rgba(0,0,255,0.5)" stroke="rgba(0,0,255,0.55)" stroke-width="1.0"/>
<circle cx="925.92" cy="527.14" r="1.65" fill="rgba(0,0,255,0.5)" stroke="rgba(0,0,255,0.55)" stroke-width="1.0"/>
<circle cx="940.58" cy="527.14" r="10.1" fill="rgba(0,0,255,0.5)" stroke="rgba(0,0,255,0.55)" stroke-width="1.0"/>
<circle cx="955.24" cy="527.14" r="6" fill="rgba(0,0,255,0.5)" stroke="rgba(0,0,255,0.55)" stroke-width="1.0"/>
<circle cx="969.9" cy="527.14" r="2.4" fill="rgba(0,0,255,0.5)" stroke="rgba(0,0,255,0.55)" stroke-width="1.0"/>
<circle cx="984.56" cy="527.14" r="7.45" fill="rgba(0,0,255,0.5)" stroke="rgba(0,0,255,0.55)" stroke-width="1.0"/>
<circle cx="999.22" cy="527.14" r="5.95" fill="rgba(0,0,255,0.5)" stroke="rgba(0,0,255,0.55)" stroke-width="1.0"/>
<circle cx="837.97" cy="497.14" r="4.1" fill="rgba(0,0,255,0.5)" stroke="rgba(0,0,255,0.55)" stroke-width="1.0"/>
<circle cx="852.63" cy="497.14" r="3.25" fill="rgba(0,0,255,0.5)" stroke="rgba(0,0,255,0.55)" stroke-width="1.0"/>
<circle cx="867.28" cy="497.14" r="7.85" fill="rgba(0,0,255,0.5)" stroke="rgba(0,0,255,0.55)" stroke-width="1.0"/>
<circle cx="881.94" cy="497.14" r="7" fill="rgba(0,0,255,0.5)" stroke="rgba(0,0,255,0.55)" stroke-width="1.0"/>
<circle cx="896.6" cy="497.14" r="3.5" fill="rgba(0,0,255,0.5)" stroke="rgba(0,0,255,0.55)" stroke-width="1.0"/>
<circle cx="911.26" cy="497.14" r="6.5" fill="rgba(0,0,255,0.5)" stroke="rgba(0,0,255,0.55)" stroke-width="1.0"/>
<circle cx="940.58" cy="497.14" r="6.9" fill="rgba(0,0,255,0.5)" stroke="rgba(0,0,255,0.55)" stroke-width="1.0"/>
<circle cx="955.24" cy="497.14" r="1" fill="rgba(0,0,255,0.5)" stroke="rgba(0,0,255,0.55)" stroke-width="1.0"/>
<circle cx="1028.53" cy="497.14" r="5.1" fill="rgba(0,0,255,0.5)" stroke="rgba(0,0,255,0.55)" stroke-width="1.0"/>
<circle cx="1043.19" cy="497.14" r="2.85" fill="rgba(0,0,255,0.5)" stroke="rgba(0,0,255,0.55)" stroke-width="1.0"/>
<circle cx="1057.85" cy="497.14" r="2.9" fill="rgba(0,0,255,0.5)" stroke="rgba(0,0,255,0.55)" stroke-width="1.0"/>
<circle cx="1087.17" cy="497.14" r="2.65" fill="rgba(0,0,255,0.5)" stroke="rgba(0,0,255,0.55)" stroke-width="1.0"/>
<circle cx="1101.83" cy="497.14" r="4.1" fill="rgba(0,0,255,0.5)" stroke="rgba(0,0,255,0.55)" stroke-width="1.0"/>
<circle cx="1116.49" cy="497.14" r="4.25" fill="rgba(0,0,255,0.5)" stroke="rgba(0,0,255,0.55)" stroke-width="1.0"/>
<rect x="626.88" y="365.14" width="554.1" height="324" fill="none" stroke="#000" stroke-linejoin="round" stroke-width="0.75"/>
<text x="912.78" y="385.29" font-size="12.9" letter-spacing="0.2" fill="#808080" text-anchor="middle">IBTS/BITSQ1</text>
<line x1="647.4" y1="689.14" x2="1160.47" y2="689.14" stroke="#000" stroke-width="0.75"/>
<line x1="647.4" y1="689.14" x2="647.4" y2="697.54" stroke="#000" stroke-width="0.75"/>
<text x="647.4" y="717.94" font-size="12.4" text-anchor="middle" fill="#000">1990</text>
<line x1="720.69" y1="689.14" x2="720.69" y2="697.54" stroke="#000" stroke-width="0.75"/>
<text x="720.69" y="717.94" font-size="12.4" text-anchor="middle" fill="#000">1995</text>
<line x1="793.99" y1="689.14" x2="793.99" y2="697.54" stroke="#000" stroke-width="0.75"/>
<text x="793.99" y="717.94" font-size="12.4" text-anchor="middle" fill="#000">2000</text>
<line x1="867.28" y1="689.14" x2="867.28" y2="697.54" stroke="#000" stroke-width="0.75"/>
<text x="867.28" y="717.94" font-size="12.4" text-anchor="middle" fill="#000">2005</text>
<line x1="940.58" y1="689.14" x2="940.58" y2="697.54" stroke="#000" stroke-width="0.75"/>
<text x="940.58" y="717.94" font-size="12.4" text-anchor="middle" fill="#000">2010</text>
<line x1="1013.88" y1="689.14" x2="1013.88" y2="697.54" stroke="#000" stroke-width="0.75"/>
<text x="1013.88" y="717.94" font-size="12.4" text-anchor="middle" fill="#000">2015</text>
<line x1="1087.17" y1="689.14" x2="1087.17" y2="697.54" stroke="#000" stroke-width="0.75"/>
<text x="1087.17" y="717.94" font-size="12.4" text-anchor="middle" fill="#000">2020</text>
<line x1="1160.47" y1="689.14" x2="1160.47" y2="697.54" stroke="#000" stroke-width="0.75"/>
<text x="1160.47" y="717.94" font-size="12.4" text-anchor="middle" fill="#000">2025</text>
</g>
<g>
<circle cx="116.34" cy="977.5" r="12.1" fill="rgba(255,0,0,0.5)" stroke="rgba(255,0,0,0.55)" stroke-width="1.0"/>
<circle cx="131" cy="977.5" r="4.5" fill="rgba(255,0,0,0.5)" stroke="rgba(255,0,0,0.55)" stroke-width="1.0"/>
<circle cx="336.22" cy="977.5" r="2.35" fill="rgba(255,0,0,0.5)" stroke="rgba(255,0,0,0.55)" stroke-width="1.0"/>
<circle cx="350.88" cy="977.5" r="3.65" fill="rgba(255,0,0,0.5)" stroke="rgba(255,0,0,0.55)" stroke-width="1.0"/>
<circle cx="409.52" cy="977.5" r="4.5" fill="rgba(255,0,0,0.5)" stroke="rgba(255,0,0,0.55)" stroke-width="1.0"/>
<circle cx="438.84" cy="977.5" r="7.4" fill="rgba(255,0,0,0.5)" stroke="rgba(255,0,0,0.55)" stroke-width="1.0"/>
<circle cx="453.5" cy="977.5" r="2.55" fill="rgba(255,0,0,0.5)" stroke="rgba(255,0,0,0.55)" stroke-width="1.0"/>
<circle cx="468.15" cy="977.5" r="8.6" fill="rgba(255,0,0,0.5)" stroke="rgba(255,0,0,0.55)" stroke-width="1.0"/>
<circle cx="482.81" cy="977.5" r="5.15" fill="rgba(255,0,0,0.5)" stroke="rgba(255,0,0,0.55)" stroke-width="1.0"/>
<circle cx="497.47" cy="977.5" r="2.15" fill="rgba(255,0,0,0.5)" stroke="rgba(255,0,0,0.55)" stroke-width="1.0"/>
<circle cx="512.13" cy="977.5" r="4.75" fill="rgba(255,0,0,0.5)" stroke="rgba(255,0,0,0.55)" stroke-width="1.0"/>
<circle cx="526.79" cy="977.5" r="7.9" fill="rgba(255,0,0,0.5)" stroke="rgba(255,0,0,0.55)" stroke-width="1.0"/>
<circle cx="570.77" cy="977.5" r="1.85" fill="rgba(255,0,0,0.5)" stroke="rgba(255,0,0,0.55)" stroke-width="1.0"/>
<circle cx="145.66" cy="977.5" r="5.9" fill="rgba(0,0,255,0.5)" stroke="rgba(0,0,255,0.55)" stroke-width="1.0"/>
<circle cx="160.31" cy="977.5" r="1.9" fill="rgba(0,0,255,0.5)" stroke="rgba(0,0,255,0.55)" stroke-width="1.0"/>
<circle cx="174.97" cy="977.5" r="5.9" fill="rgba(0,0,255,0.5)" stroke="rgba(0,0,255,0.55)" stroke-width="1.0"/>
<circle cx="189.63" cy="977.5" r="1.75" fill="rgba(0,0,255,0.5)" stroke="rgba(0,0,255,0.55)" stroke-width="1.0"/>
<circle cx="204.29" cy="977.5" r="7.85" fill="rgba(0,0,255,0.5)" stroke="rgba(0,0,255,0.55)" stroke-width="1.0"/>
<circle cx="218.95" cy="977.5" r="7.85" fill="rgba(0,0,255,0.5)" stroke="rgba(0,0,255,0.55)" stroke-width="1.0"/>
<circle cx="233.61" cy="977.5" r="2" fill="rgba(0,0,255,0.5)" stroke="rgba(0,0,255,0.55)" stroke-width="1.0"/>
<circle cx="248.27" cy="977.5" r="3.1" fill="rgba(0,0,255,0.5)" stroke="rgba(0,0,255,0.55)" stroke-width="1.0"/>
<circle cx="262.93" cy="977.5" r="6.35" fill="rgba(0,0,255,0.5)" stroke="rgba(0,0,255,0.55)" stroke-width="1.0"/>
<circle cx="277.59" cy="977.5" r="3.25" fill="rgba(0,0,255,0.5)" stroke="rgba(0,0,255,0.55)" stroke-width="1.0"/>
<circle cx="292.25" cy="977.5" r="6" fill="rgba(0,0,255,0.5)" stroke="rgba(0,0,255,0.55)" stroke-width="1.0"/>
<circle cx="306.91" cy="977.5" r="2.75" fill="rgba(0,0,255,0.5)" stroke="rgba(0,0,255,0.55)" stroke-width="1.0"/>
<circle cx="321.56" cy="977.5" r="3.6" fill="rgba(0,0,255,0.5)" stroke="rgba(0,0,255,0.55)" stroke-width="1.0"/>
<circle cx="365.54" cy="977.5" r="6.5" fill="rgba(0,0,255,0.5)" stroke="rgba(0,0,255,0.55)" stroke-width="1.0"/>
<circle cx="380.2" cy="977.5" r="6.4" fill="rgba(0,0,255,0.5)" stroke="rgba(0,0,255,0.55)" stroke-width="1.0"/>
<circle cx="394.86" cy="977.5" r="4" fill="rgba(0,0,255,0.5)" stroke="rgba(0,0,255,0.55)" stroke-width="1.0"/>
<circle cx="424.18" cy="977.5" r="4.25" fill="rgba(0,0,255,0.5)" stroke="rgba(0,0,255,0.55)" stroke-width="1.0"/>
<circle cx="541.45" cy="977.5" r="3.1" fill="rgba(0,0,255,0.5)" stroke="rgba(0,0,255,0.55)" stroke-width="1.0"/>
<circle cx="556.11" cy="977.5" r="4.75" fill="rgba(0,0,255,0.5)" stroke="rgba(0,0,255,0.55)" stroke-width="1.0"/>
<circle cx="585.43" cy="977.5" r="5.75" fill="rgba(0,0,255,0.5)" stroke="rgba(0,0,255,0.55)" stroke-width="1.0"/>
<rect x="66.5" y="695.5" width="554.1" height="324" fill="none" stroke="#000" stroke-linejoin="round" stroke-width="0.75"/>
<text x="352.4" y="715.9" font-size="12.9" letter-spacing="0.2" fill="#808080" text-anchor="middle">N20</text>
<line x1="66.5" y1="977.5" x2="66.5" y2="737.5" stroke="#000" stroke-width="0.75"/>
<line x1="58.1" y1="977.5" x2="66.5" y2="977.5" stroke="#000" stroke-width="0.75"/>
<text transform="translate(47.9 977.8) rotate(-90)" font-size="12.4" text-anchor="middle" fill="#000">0</text>
<line x1="58.1" y1="917.5" x2="66.5" y2="917.5" stroke="#000" stroke-width="0.75"/>
<text transform="translate(47.9 917.8) rotate(-90)" font-size="12.4" text-anchor="middle" fill="#000">2</text>
<line x1="58.1" y1="857.5" x2="66.5" y2="857.5" stroke="#000" stroke-width="0.75"/>
<text transform="translate(47.9 857.8) rotate(-90)" font-size="12.4" text-anchor="middle" fill="#000">4</text>
<line x1="58.1" y1="797.5" x2="66.5" y2="797.5" stroke="#000" stroke-width="0.75"/>
<text transform="translate(47.9 797.8) rotate(-90)" font-size="12.4" text-anchor="middle" fill="#000">6</text>
<line x1="58.1" y1="737.5" x2="66.5" y2="737.5" stroke="#000" stroke-width="0.75"/>
<text transform="translate(47.9 737.8) rotate(-90)" font-size="12.4" text-anchor="middle" fill="#000">8</text>
<line x1="87.02" y1="1019.5" x2="600.09" y2="1019.5" stroke="#000" stroke-width="0.75"/>
<line x1="87.02" y1="1019.5" x2="87.02" y2="1027.9" stroke="#000" stroke-width="0.75"/>
<text x="87.02" y="1048.3" font-size="12.4" text-anchor="middle" fill="#000">1990</text>
<line x1="160.31" y1="1019.5" x2="160.31" y2="1027.9" stroke="#000" stroke-width="0.75"/>
<text x="160.31" y="1048.3" font-size="12.4" text-anchor="middle" fill="#000">1995</text>
<line x1="233.61" y1="1019.5" x2="233.61" y2="1027.9" stroke="#000" stroke-width="0.75"/>
<text x="233.61" y="1048.3" font-size="12.4" text-anchor="middle" fill="#000">2000</text>
<line x1="306.91" y1="1019.5" x2="306.91" y2="1027.9" stroke="#000" stroke-width="0.75"/>
<text x="306.91" y="1048.3" font-size="12.4" text-anchor="middle" fill="#000">2005</text>
<line x1="380.2" y1="1019.5" x2="380.2" y2="1027.9" stroke="#000" stroke-width="0.75"/>
<text x="380.2" y="1048.3" font-size="12.4" text-anchor="middle" fill="#000">2010</text>
<line x1="453.5" y1="1019.5" x2="453.5" y2="1027.9" stroke="#000" stroke-width="0.75"/>
<text x="453.5" y="1048.3" font-size="12.4" text-anchor="middle" fill="#000">2015</text>
<line x1="526.79" y1="1019.5" x2="526.79" y2="1027.9" stroke="#000" stroke-width="0.75"/>
<text x="526.79" y="1048.3" font-size="12.4" text-anchor="middle" fill="#000">2020</text>
<line x1="600.09" y1="1019.5" x2="600.09" y2="1027.9" stroke="#000" stroke-width="0.75"/>
<text x="600.09" y="1048.3" font-size="12.4" text-anchor="middle" fill="#000">2025</text>
</g>
<text transform="translate(623.9 1082.6) scale(1.025 1.025)" font-size="20" text-anchor="middle" fill="#000">Year</text>
<text transform="translate(20.8 527.2) rotate(-90) scale(0.975 1.025)" font-size="20" text-anchor="middle" fill="#000">Age</text>
<text transform="translate(120.4 1171.8) scale(1.02 1.06)" font-size="20" text-anchor="middle" fill="#000">-6</text>
<circle cx="120" cy="1164" r="22.5" fill="rgba(255,0,0,0.5)" stroke="rgba(255,0,0,0.55)" stroke-width="1.0"/>
<text transform="translate(192.4 1171.8) scale(1.02 1.06)" font-size="20" text-anchor="middle" fill="#000">-4</text>
<circle cx="192" cy="1164" r="18.25" fill="rgba(255,0,0,0.5)" stroke="rgba(255,0,0,0.55)" stroke-width="1.0"/>
<text transform="translate(264.4 1171.8) scale(1.02 1.06)" font-size="20" text-anchor="middle" fill="#000">-2</text>
<circle cx="264" cy="1164" r="12.85" fill="rgba(255,0,0,0.5)" stroke="rgba(255,0,0,0.55)" stroke-width="1.0"/>
<text transform="translate(336.4 1171.8) scale(1.02 1.06)" font-size="20" text-anchor="middle" fill="#000">0</text>
<text transform="translate(408.4 1171.8) scale(1.02 1.06)" font-size="20" text-anchor="middle" fill="#000">2</text>
<circle cx="408" cy="1164" r="12.85" fill="rgba(0,0,255,0.5)" stroke="rgba(0,0,255,0.55)" stroke-width="1.0"/>
<text transform="translate(480.4 1171.8) scale(1.02 1.06)" font-size="20" text-anchor="middle" fill="#000">4</text>
<circle cx="480" cy="1164" r="18.15" fill="rgba(0,0,255,0.5)" stroke="rgba(0,0,255,0.55)" stroke-width="1.0"/>
</svg></body></html>
